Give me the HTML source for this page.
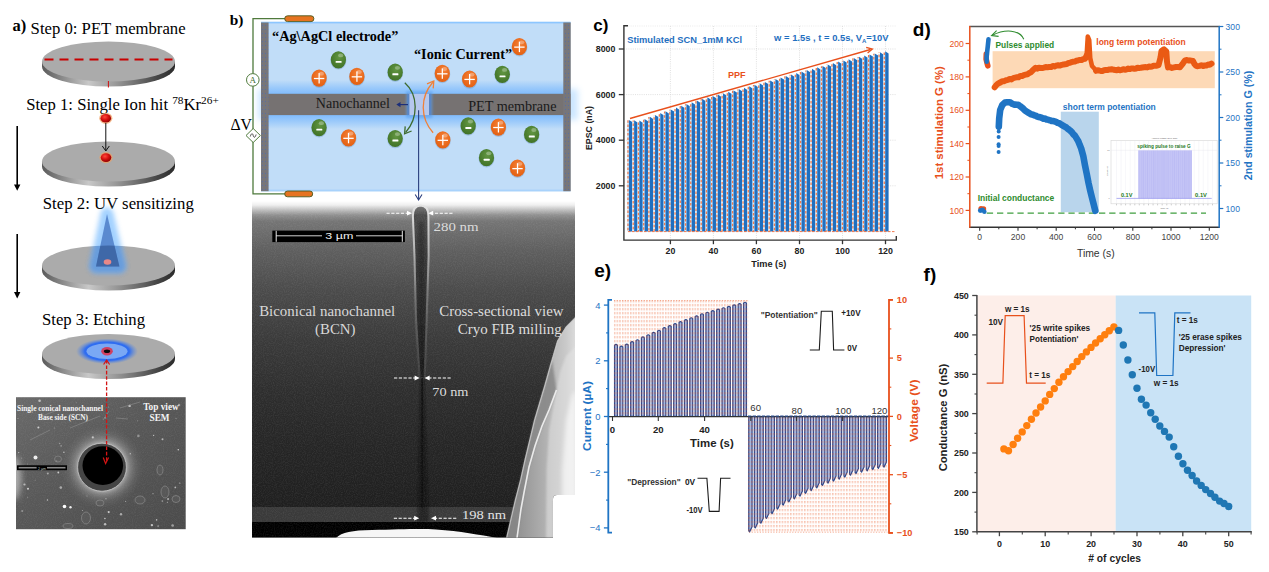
<!DOCTYPE html>
<html><head><meta charset="utf-8"><title>figure</title>
<style>
html,body{margin:0;padding:0;background:#fff;}
body{width:1269px;height:572px;overflow:hidden;font-family:"Liberation Sans",sans-serif;}
svg{display:block;}
</style></head>
<body>
<svg width="1269" height="572" viewBox="0 0 1269 572">
<defs>
<linearGradient id="discSide" x1="0" y1="0" x2="1" y2="0">
  <stop offset="0" stop-color="#5a5a5a"/>
  <stop offset="0.35" stop-color="#c8c8c8"/>
  <stop offset="0.55" stop-color="#9a9a9a"/>
  <stop offset="0.85" stop-color="#4a4a4a"/>
  <stop offset="1" stop-color="#2a2a2a"/>
</linearGradient>
<linearGradient id="discTop" x1="0" y1="0" x2="1" y2="1">
  <stop offset="0" stop-color="#b4b4b4"/>
  <stop offset="1" stop-color="#a4a4a4"/>
</linearGradient>
<radialGradient id="redBall" cx="0.4" cy="0.35" r="0.7">
  <stop offset="0" stop-color="#ff4a3a"/>
  <stop offset="0.5" stop-color="#d61010"/>
  <stop offset="1" stop-color="#8a0000"/>
</radialGradient>
<radialGradient id="ionG" cx="0.55" cy="0.35" r="0.7">
  <stop offset="0" stop-color="#629642"/>
  <stop offset="0.6" stop-color="#4c7f30"/>
  <stop offset="1" stop-color="#3f7026"/>
</radialGradient>
<radialGradient id="ionO" cx="0.55" cy="0.35" r="0.7">
  <stop offset="0" stop-color="#f4823a"/>
  <stop offset="0.6" stop-color="#ea6a1c"/>
  <stop offset="1" stop-color="#e05e12"/>
</radialGradient>
<radialGradient id="etchGlow" cx="0.5" cy="0.5" r="0.5">
  <stop offset="0" stop-color="#2f6df0" stop-opacity="1"/>
  <stop offset="0.72" stop-color="#2f6df0" stop-opacity="1"/>
  <stop offset="1" stop-color="#5a8ae0" stop-opacity="0"/>
</radialGradient>
<filter id="blur1" x="-30%" y="-30%" width="160%" height="160%"><feGaussianBlur stdDeviation="1"/></filter>
<filter id="blur2" x="-30%" y="-30%" width="160%" height="160%"><feGaussianBlur stdDeviation="2"/></filter>
<filter id="blur3" x="-40%" y="-40%" width="180%" height="180%"><feGaussianBlur stdDeviation="3"/></filter>
<filter id="blur07" x="-30%" y="-30%" width="160%" height="160%"><feGaussianBlur stdDeviation="0.7"/></filter>
<filter id="blur25" x="-50%" y="-30%" width="200%" height="160%"><feGaussianBlur stdDeviation="2.4"/></filter>
<filter id="blur05" x="-30%" y="-30%" width="160%" height="160%"><feGaussianBlur stdDeviation="0.5"/></filter>
<filter id="blur4" x="-40%" y="-40%" width="180%" height="180%"><feGaussianBlur stdDeviation="4.5"/></filter>
<filter id="noise" x="0" y="0" width="100%" height="100%">
  <feTurbulence type="fractalNoise" baseFrequency="0.9" numOctaves="2" seed="3" result="n"/>
  <feColorMatrix type="matrix" values="0 0 0 0 1  0 0 0 0 1  0 0 0 0 1  0.9 0 0 0 -0.33"/>
</filter>
<linearGradient id="semB" x1="0" y1="0" x2="0" y2="1">
  <stop offset="0" stop-color="#ffffff"/>
  <stop offset="0.012" stop-color="#efefef"/>
  <stop offset="0.027" stop-color="#bebebe"/>
  <stop offset="0.042" stop-color="#909090"/>
  <stop offset="0.060" stop-color="#757575"/>
  <stop offset="0.146" stop-color="#5f5f5f"/>
  <stop offset="0.264" stop-color="#4b4b4b"/>
  <stop offset="0.413" stop-color="#3a3a3a"/>
  <stop offset="0.562" stop-color="#2e2e2e"/>
  <stop offset="0.71" stop-color="#262626"/>
  <stop offset="0.9" stop-color="#1f1f1f"/>
  <stop offset="1" stop-color="#1c1c1c"/>
</linearGradient>
<linearGradient id="chanEdge" x1="0" y1="205" x2="0" y2="380" gradientUnits="userSpaceOnUse">
  <stop offset="0" stop-color="#e4e4e4"/>
  <stop offset="0.25" stop-color="#b4b4b4"/>
  <stop offset="0.5" stop-color="#787878"/>
  <stop offset="0.7" stop-color="#585858"/>
  <stop offset="1" stop-color="#3c3c3c"/>
</linearGradient>
<linearGradient id="chanFill" x1="0" y1="205" x2="0" y2="380" gradientUnits="userSpaceOnUse">
  <stop offset="0" stop-color="#7a7a7a"/>
  <stop offset="0.06" stop-color="#4c4c4c"/>
  <stop offset="0.3" stop-color="#3a3a3a"/>
  <stop offset="0.65" stop-color="#2a2a2a"/>
  <stop offset="1" stop-color="#1a1a1a"/>
</linearGradient>
<linearGradient id="semR1" x1="505" y1="0" x2="577" y2="0" gradientUnits="userSpaceOnUse">
  <stop offset="0" stop-color="#848484"/>
  <stop offset="0.3" stop-color="#9c9c9c"/>
  <stop offset="0.6" stop-color="#b4b4b4"/>
  <stop offset="0.85" stop-color="#cacaca"/>
  <stop offset="1" stop-color="#dedede"/>
</linearGradient>
<linearGradient id="semRight" x1="0" y1="0" x2="1" y2="0">
  <stop offset="0" stop-color="#8a8a8a"/>
  <stop offset="0.35" stop-color="#c4c4c4"/>
  <stop offset="0.6" stop-color="#e8e8e8"/>
  <stop offset="1" stop-color="#d0d0d0"/>
</linearGradient>
<radialGradient id="semHalo" cx="0.5" cy="0.5" r="0.5">
  <stop offset="0.55" stop-color="#d0d0d0" stop-opacity="0.8"/>
  <stop offset="0.68" stop-color="#b0b0b0" stop-opacity="0.45"/>
  <stop offset="0.84" stop-color="#909090" stop-opacity="0.18"/>
  <stop offset="1" stop-color="#808080" stop-opacity="0"/>
</radialGradient>
<linearGradient id="memGlowT" x1="0" y1="0" x2="0" y2="1">
  <stop offset="0" stop-color="#4aa0ff" stop-opacity="0"/>
  <stop offset="1" stop-color="#5aa8ff" stop-opacity="0.62"/>
</linearGradient>
<linearGradient id="memGlowB" x1="0" y1="0" x2="0" y2="1">
  <stop offset="0" stop-color="#5aa8ff" stop-opacity="0.62"/>
  <stop offset="1" stop-color="#4aa0ff" stop-opacity="0"/>
</linearGradient>
<pattern id="dots" x="0" y="0" width="3" height="4" patternUnits="userSpaceOnUse">
  <rect x="0" y="0" width="3" height="4" fill="#77767a"/>
  <rect x="1" y="1" width="1" height="1" fill="#5a6ea0"/>
</pattern>

</defs>
<rect x="0" y="0" width="1269" height="572" fill="#ffffff"/>
<g id="panelA">
<text x="12.6" y="30.8" font-family='"Liberation Serif", serif' font-size="16.5" fill="#000" font-weight="bold" >a)</text>
<text x="30.6" y="34.0" font-family='"Liberation Serif", serif' font-size="16.3" fill="#000" textLength="155.0" lengthAdjust="spacingAndGlyphs" >Step 0: PET membrane</text>
<path d="M42.0,61.5 L42.0,66.5 A66.5,20 0 0 0 175.0,66.5 L175.0,61.5 Z" fill="url(#discSide)"/>
<ellipse cx="108.5" cy="61.5" rx="66.5" ry="20" fill="#ababab"/>
<line x1="44.5" y1="59.4" x2="172.5" y2="59.4" stroke="#c80000" stroke-width="2" stroke-dasharray="9 6"/>
<line x1="108.4" y1="81" x2="108.4" y2="87.5" stroke="#d01010" stroke-width="1"/>
<text x="26.2" y="109.7" font-family='"Liberation Serif", serif' font-size="16.7" fill="#000" >Step 1: Single Ion hit <tspan font-size="11.3" dy="-5.6">78</tspan><tspan dy="5.6">Kr</tspan><tspan font-size="11.3" dy="-5.6">26+</tspan></text>
<path d="M42.0,161.5 L42.0,166.5 A66.5,20 0 0 0 175.0,166.5 L175.0,161.5 Z" fill="url(#discSide)"/>
<ellipse cx="108.5" cy="161.5" rx="66.5" ry="20" fill="#ababab"/>
<ellipse cx="105.8" cy="118.3" rx="6.6" ry="5.6" fill="#f0a060" opacity="0.7" filter="url(#blur05)"/>
<ellipse cx="105.8" cy="118.3" rx="5.3" ry="4.3" fill="url(#redBall)"/>
<line x1="105.8" y1="123" x2="105.8" y2="150.5" stroke="#111" stroke-width="1"/>
<path d="M102.3,146 L105.8,151 L109.3,146" fill="none" stroke="#111" stroke-width="1"/>
<ellipse cx="106" cy="157.6" rx="6.6" ry="5.6" fill="#f0a060" opacity="0.7" filter="url(#blur05)"/>
<ellipse cx="106" cy="157.6" rx="5.3" ry="4.3" fill="url(#redBall)"/>
<line x1="17.2" y1="126" x2="17.2" y2="186" stroke="#000" stroke-width="1.6"/>
<path d="M14,184.5 L17.2,190.8 L20.4,184.5 Z" fill="#000"/>
<line x1="17.2" y1="234" x2="17.2" y2="293" stroke="#000" stroke-width="1.6"/>
<path d="M14,292 L17.2,298.5 L20.4,292 Z" fill="#000"/>
<text x="42.8" y="208.8" font-family='"Liberation Serif", serif' font-size="16.3" fill="#000" textLength="151.0" lengthAdjust="spacingAndGlyphs" >Step 2: UV sensitizing</text>
<path d="M42.0,265.5 L42.0,270.5 A66.5,20 0 0 0 175.0,270.5 L175.0,265.5 Z" fill="url(#discSide)"/>
<ellipse cx="108.5" cy="265.5" rx="66.5" ry="20" fill="#ababab"/>
<path d="M107,214 L96,266.5 L119.4,266.5 Z" fill="#8cc6ff" stroke="#8cc6ff" stroke-width="13" stroke-linejoin="round" opacity="0.8" filter="url(#blur25)"/>
<clipPath id="clipD2g"><ellipse cx="108.5" cy="265.5" rx="66.5" ry="20"/></clipPath>
<g clip-path="url(#clipD2g)"><path d="M107,214 L96,266.5 L119.4,266.5 Z" fill="#4c84d0" stroke="#4c84d0" stroke-width="13" stroke-linejoin="round" opacity="0.6" filter="url(#blur25)"/></g>
<path d="M107,214 L96,266.5 L119.4,266.5 Z" fill="#5a8ad0"/>
<clipPath id="clipD2"><ellipse cx="108.5" cy="265.5" rx="66.5" ry="20"/></clipPath>
<path d="M107,214 L96,266.5 L119.4,266.5 Z" fill="#3f68a8" clip-path="url(#clipD2)"/>
<ellipse cx="107.5" cy="262" rx="3.8" ry="2.8" fill="#e88888"/>
<text x="42.0" y="325.0" font-family='"Liberation Serif", serif' font-size="16.3" fill="#000" textLength="103.0" lengthAdjust="spacingAndGlyphs" >Step 3: Etching</text>
<path d="M42.0,354.0 L42.0,359.0 A66.5,20 0 0 0 175.0,359.0 L175.0,354.0 Z" fill="url(#discSide)"/>
<ellipse cx="108.5" cy="354" rx="66.5" ry="20" fill="#ababab"/>
<ellipse cx="107" cy="351.3" rx="31" ry="12.8" fill="url(#etchGlow)"/>
<ellipse cx="107" cy="351.3" rx="20.5" ry="7.8" fill="#7aa8f4"/>
<ellipse cx="107" cy="351.3" rx="5.8" ry="4.2" fill="#d04060"/>
<ellipse cx="107" cy="351.3" rx="3.2" ry="1.8" fill="#0a0a0a"/>
<g>
<clipPath id="clipSemA"><rect x="16" y="397.2" width="169.7" height="132"/></clipPath>
<linearGradient id="semAbg" x1="0" y1="0" x2="1" y2="1"><stop offset="0" stop-color="#6a6a6a"/><stop offset="0.45" stop-color="#585858"/><stop offset="1" stop-color="#4a4a4a"/></linearGradient>
<rect x="16" y="397.2" width="169.7" height="132" fill="url(#semAbg)"/>
<g clip-path="url(#clipSemA)">
<rect x="16" y="397.2" width="169.7" height="132" filter="url(#noise)" opacity="0.15"/>
<ellipse cx="14" cy="478" rx="7" ry="22" fill="#d0d0d0" opacity="0.7" filter="url(#blur3)"/>
<circle cx="102.3" cy="467" r="41" fill="url(#semHalo)"/>
<ellipse cx="102" cy="467.2" rx="24.4" ry="24" fill="#454545"/>
<ellipse cx="102" cy="467.2" rx="24.4" ry="24" fill="none" stroke="#d0d0d0" stroke-width="1" opacity="0.7"/>
<ellipse cx="102.8" cy="465.6" rx="20.3" ry="19.4" fill="#000"/>
<circle cx="71.4" cy="418.3" r="1.0" fill="#e8e8e8" opacity="0.39"/>
<circle cx="27.6" cy="464.0" r="0.4" fill="#e8e8e8" opacity="0.57"/>
<circle cx="29.5" cy="410.6" r="0.8" fill="#e8e8e8" opacity="0.76"/>
<circle cx="38.4" cy="427.6" r="1.0" fill="#e8e8e8" opacity="0.82"/>
<circle cx="179.1" cy="405.0" r="1.2" fill="#e8e8e8" opacity="0.49"/>
<circle cx="41.8" cy="414.1" r="0.7" fill="#e8e8e8" opacity="0.76"/>
<circle cx="47.8" cy="473.4" r="1.0" fill="#e8e8e8" opacity="0.54"/>
<circle cx="108.4" cy="407.0" r="0.5" fill="#e8e8e8" opacity="0.45"/>
<circle cx="130.3" cy="453.7" r="0.7" fill="#e8e8e8" opacity="0.64"/>
<circle cx="92.8" cy="437.4" r="1.1" fill="#e8e8e8" opacity="0.70"/>
<circle cx="58.3" cy="472.5" r="0.9" fill="#e8e8e8" opacity="0.79"/>
<circle cx="138.4" cy="435.9" r="1.3" fill="#e8e8e8" opacity="0.41"/>
<circle cx="87.0" cy="495.9" r="0.5" fill="#e8e8e8" opacity="0.59"/>
<circle cx="24.5" cy="484.5" r="1.1" fill="#e8e8e8" opacity="0.64"/>
<circle cx="162.5" cy="439.2" r="1.0" fill="#e8e8e8" opacity="0.65"/>
<circle cx="156.6" cy="519.9" r="0.8" fill="#e8e8e8" opacity="0.68"/>
<circle cx="28.0" cy="488.8" r="1.0" fill="#e8e8e8" opacity="0.85"/>
<circle cx="153.6" cy="435.4" r="0.7" fill="#e8e8e8" opacity="0.68"/>
<circle cx="21.7" cy="458.1" r="0.6" fill="#e8e8e8" opacity="0.41"/>
<circle cx="27.7" cy="497.3" r="0.5" fill="#e8e8e8" opacity="0.47"/>
<circle cx="82.5" cy="510.5" r="0.5" fill="#e8e8e8" opacity="0.57"/>
<circle cx="108.7" cy="512.1" r="1.1" fill="#e8e8e8" opacity="0.78"/>
<circle cx="63.9" cy="452.2" r="0.7" fill="#e8e8e8" opacity="0.79"/>
<circle cx="176.0" cy="418.3" r="0.6" fill="#e8e8e8" opacity="0.47"/>
<circle cx="56.5" cy="461.1" r="0.9" fill="#e8e8e8" opacity="0.48"/>
<circle cx="18.7" cy="452.6" r="0.7" fill="#e8e8e8" opacity="0.63"/>
<circle cx="175.3" cy="487.4" r="0.9" fill="#e8e8e8" opacity="0.66"/>
<circle cx="129.6" cy="405.9" r="1.2" fill="#e8e8e8" opacity="0.74"/>
<circle cx="162.3" cy="501.1" r="0.8" fill="#e8e8e8" opacity="0.55"/>
<circle cx="35.1" cy="480.2" r="0.5" fill="#e8e8e8" opacity="0.38"/>
<circle cx="52.4" cy="419.8" r="0.7" fill="#e8e8e8" opacity="0.38"/>
<circle cx="18.0" cy="418.4" r="0.5" fill="#e8e8e8" opacity="0.53"/>
<circle cx="22.2" cy="510.9" r="1.0" fill="#e8e8e8" opacity="0.42"/>
<circle cx="59.6" cy="443.5" r="0.7" fill="#e8e8e8" opacity="0.41"/>
<circle cx="158.1" cy="526.1" r="0.8" fill="#e8e8e8" opacity="0.59"/>
<circle cx="32.2" cy="412.1" r="0.7" fill="#e8e8e8" opacity="0.48"/>
<circle cx="154.8" cy="419.7" r="0.4" fill="#e8e8e8" opacity="0.83"/>
<circle cx="105.2" cy="417.8" r="0.9" fill="#e8e8e8" opacity="0.36"/>
<circle cx="105.1" cy="524.2" r="1.2" fill="#e8e8e8" opacity="0.70"/>
<circle cx="61.1" cy="445.9" r="0.6" fill="#e8e8e8" opacity="0.74"/>
<circle cx="105.9" cy="498.7" r="0.7" fill="#e8e8e8" opacity="0.46"/>
<circle cx="151.9" cy="525.1" r="1.2" fill="#e8e8e8" opacity="0.75"/>
<circle cx="153.0" cy="493.7" r="0.6" fill="#e8e8e8" opacity="0.61"/>
<circle cx="76.7" cy="402.7" r="0.4" fill="#e8e8e8" opacity="0.49"/>
<circle cx="60.8" cy="487.6" r="1.3" fill="#e8e8e8" opacity="0.57"/>
<circle cx="172.6" cy="525.5" r="1.3" fill="#e8e8e8" opacity="0.53"/>
<circle cx="54.4" cy="428.0" r="0.6" fill="#e8e8e8" opacity="0.45"/>
<circle cx="121.0" cy="514.2" r="1.2" fill="#e8e8e8" opacity="0.59"/>
<circle cx="125.7" cy="501.4" r="0.5" fill="#e8e8e8" opacity="0.68"/>
<circle cx="168.1" cy="499.1" r="1.1" fill="#e8e8e8" opacity="0.59"/>
<circle cx="47.5" cy="500.0" r="0.7" fill="#e8e8e8" opacity="0.75"/>
<circle cx="178.3" cy="449.7" r="0.8" fill="#e8e8e8" opacity="0.82"/>
<circle cx="137.6" cy="420.8" r="0.5" fill="#e8e8e8" opacity="0.43"/>
<circle cx="167.3" cy="502.2" r="0.5" fill="#e8e8e8" opacity="0.76"/>
<circle cx="179.8" cy="483.1" r="0.7" fill="#e8e8e8" opacity="0.62"/>
<circle cx="39.6" cy="400.8" r="1.3" fill="#e8e8e8" opacity="0.67"/>
<circle cx="104.9" cy="518.5" r="0.8" fill="#e8e8e8" opacity="0.79"/>
<ellipse cx="86" cy="518" rx="4.5" ry="6" fill="#606060" fill-opacity="0.5" stroke="#8a8a8a" stroke-width="0.7"/>
<ellipse cx="176" cy="499" rx="4" ry="3.5" fill="#606060" fill-opacity="0.5" stroke="#8a8a8a" stroke-width="0.7"/>
<ellipse cx="165" cy="492" rx="4" ry="6" fill="#606060" fill-opacity="0.5" stroke="#8a8a8a" stroke-width="0.7"/>
<ellipse cx="58" cy="459" rx="3.5" ry="3" fill="#606060" fill-opacity="0.5" stroke="#8a8a8a" stroke-width="0.7"/>
<ellipse cx="140" cy="500" rx="5" ry="4" fill="#606060" fill-opacity="0.5" stroke="#8a8a8a" stroke-width="0.7"/>
<ellipse cx="100" cy="503" rx="4" ry="3" fill="#606060" fill-opacity="0.5" stroke="#8a8a8a" stroke-width="0.7"/>
<ellipse cx="160" cy="470" rx="3" ry="5" fill="#606060" fill-opacity="0.5" stroke="#8a8a8a" stroke-width="0.7"/>
<ellipse cx="68" cy="526" rx="5" ry="2.5" fill="#606060" fill-opacity="0.5" stroke="#8a8a8a" stroke-width="0.7"/>
<circle cx="64.5" cy="506.5" r="1.8" fill="#fff"/><circle cx="70.5" cy="507.3" r="1.2" fill="#eee"/>
<circle cx="35.5" cy="457.5" r="2" fill="#eee"/>
<line x1="40" y1="417" x2="60" y2="409" stroke="#9a9a9a" stroke-width="0.7" opacity="0.7"/>
<line x1="70" y1="428" x2="100" y2="416" stroke="#9a9a9a" stroke-width="0.7" opacity="0.7"/>
<line x1="103" y1="420" x2="109" y2="411" stroke="#9a9a9a" stroke-width="0.7" opacity="0.7"/>
<line x1="116" y1="418" x2="128" y2="419" stroke="#9a9a9a" stroke-width="0.7" opacity="0.7"/>
<line x1="30" y1="440" x2="50" y2="430" stroke="#9a9a9a" stroke-width="0.7" opacity="0.7"/>
<line x1="120" y1="408" x2="140" y2="402" stroke="#9a9a9a" stroke-width="0.7" opacity="0.7"/>
</g>
<rect x="17" y="465.3" width="50" height="4.9" fill="#000"/>
<rect x="18.6" y="466.9" width="18" height="1.6" fill="#8a8a8a"/>
<rect x="47" y="466.9" width="18.5" height="1.6" fill="#8a8a8a"/>
<text x="42.0" y="469.6" font-family='"Liberation Sans", sans-serif' font-size="3.6" fill="#bbb" text-anchor="middle" >2 µm</text>
<text x="17.0" y="410.7" font-family='"Liberation Serif", serif' font-size="7.7" fill="#f4f4f4" font-weight="bold" textLength="86.0" lengthAdjust="spacingAndGlyphs" >Single conical nanochannel</text>
<text x="63.0" y="419.8" font-family='"Liberation Serif", serif' font-size="7.7" fill="#f4f4f4" text-anchor="middle" font-weight="bold" textLength="50.0" lengthAdjust="spacingAndGlyphs" >Base side (SCN)</text>
<text x="161.0" y="410.0" font-family='"Liberation Serif", serif' font-size="9.6" fill="#f4f4f4" text-anchor="middle" font-weight="bold" textLength="35.5" lengthAdjust="spacingAndGlyphs" >Top view</text>
<text x="159.5" y="421.0" font-family='"Liberation Serif", serif' font-size="9.6" fill="#f4f4f4" text-anchor="middle" font-weight="bold" textLength="20.0" lengthAdjust="spacingAndGlyphs" >SEM</text>
</g>
<line x1="106.6" y1="360" x2="106.6" y2="462" stroke="#d41414" stroke-width="1.3" stroke-dasharray="3.6 1.8"/>
<path d="M103.6,364.5 L106.6,360 L109.6,364.5" fill="none" stroke="#d41414" stroke-width="1.2"/>
<path d="M103.2,457.5 L105.6,463.5 L108.6,457.5" fill="none" stroke="#d41414" stroke-width="1.2"/>
</g>
<g id="panelB">
<text x="229.8" y="25.0" font-family='"Liberation Serif", serif' font-size="15.4" fill="#000" font-weight="bold" >b)</text>
<rect x="258" y="89" width="320" height="31" fill="#7cc0ff" opacity="0.38" filter="url(#blur3)"/>
<rect x="261" y="21.8" width="309.5" height="169.4" fill="#c1ddf8"/>
<rect x="261" y="21.8" width="309.5" height="1.6" fill="#8cc6ff"/>
<rect x="261" y="189.6" width="309.5" height="1.8" fill="#a8d2fb"/>
<rect x="261" y="80" width="309.5" height="14" fill="url(#memGlowT)"/>
<rect x="261" y="115" width="309.5" height="14" fill="url(#memGlowB)"/>
<rect x="261" y="93.8" width="309.5" height="21.3" fill="#767272"/>
<rect x="406" y="91" width="26.5" height="27" fill="#5aa0f0" opacity="0.55" filter="url(#blur1)"/>
<rect x="408" y="93.8" width="22.3" height="21.3" fill="#b6c8ee"/>
<rect x="407.2" y="93.8" width="2.2" height="21.3" fill="#5a86c4"/>
<rect x="429" y="93.8" width="2.2" height="21.3" fill="#5a86c4"/>
<rect x="261" y="22.5" width="7.6" height="168.7" fill="url(#dots)"/>
<rect x="563.3" y="22.5" width="7.4" height="168.7" fill="url(#dots)"/>
<path d="M286,18.7 L253,18.7 L253,193.9 L286,193.9" fill="none" stroke="#4f7a3c" stroke-width="1.3"/>
<rect x="284.7" y="15.8" width="29.2" height="5.8" rx="2.9" fill="#e67320" stroke="#4a5a20" stroke-width="0.9"/>
<rect x="284.7" y="191" width="28" height="5.8" rx="2.9" fill="#e67320" stroke="#4a5a20" stroke-width="0.9"/>
<circle cx="252.8" cy="79.9" r="6.3" fill="#fff" stroke="#4f7a3c" stroke-width="1"/>
<text x="252.8" y="83.2" font-family='"Liberation Serif", serif' font-size="9" fill="#3d6a2e" text-anchor="middle" >A</text>
<path d="M253.2,128.5 L260.4,135.5 L253.2,142.5 L246,135.5 Z" fill="#fff" stroke="#4f7a3c" stroke-width="1"/>
<path d="M250.3,136.5 C251.3,133 252.6,133 253.2,135.5 C253.8,138 255.1,138 256.1,134.5" fill="none" stroke="#222" stroke-width="0.8"/>
<text x="230.5" y="129.7" font-family='"Liberation Serif", serif' font-size="16.5" fill="#000" textLength="21.5" lengthAdjust="spacingAndGlyphs" >ΔV</text>
<text x="272.0" y="41.0" font-family='"Liberation Serif", serif' font-size="13.6" fill="#000" font-weight="bold" textLength="126.3" lengthAdjust="spacingAndGlyphs" >“Ag\AgCl electrode”</text>
<text x="414.0" y="58.6" font-family='"Liberation Serif", serif' font-size="13.6" fill="#000" font-weight="bold" textLength="98.0" lengthAdjust="spacingAndGlyphs" >“Ionic Current”</text>
<text x="315.8" y="107.9" font-family='"Liberation Serif", serif' font-size="14" fill="#1a1a1a" textLength="74.2" lengthAdjust="spacingAndGlyphs" >Nanochannel</text>
<text x="468.2" y="110.5" font-family='"Liberation Serif", serif' font-size="14" fill="#1a1a1a" textLength="88.3" lengthAdjust="spacingAndGlyphs" >PET membrane</text>
<ellipse cx="338.4" cy="60.6" rx="8" ry="9" fill="#5080b0" opacity="0.3" filter="url(#blur05)"/>
<ellipse cx="338.4" cy="59.8" rx="7.6" ry="8.6" fill="url(#ionG)"/>
<ellipse cx="340.7" cy="55.4" rx="2.6" ry="1.9" fill="#fff" opacity="0.3" filter="url(#blur05)"/>
<rect x="335.6" y="60.9" width="6" height="1.9" rx="0.5" fill="#fff"/>
<ellipse cx="319.1" cy="78.9" rx="8" ry="9" fill="#5080b0" opacity="0.3" filter="url(#blur05)"/>
<ellipse cx="319.1" cy="78.1" rx="7.6" ry="8.6" fill="url(#ionO)"/>
<ellipse cx="321.4" cy="73.7" rx="2.6" ry="1.9" fill="#fff" opacity="0.3" filter="url(#blur05)"/>
<rect x="313.9" y="77.9" width="10.4" height="1.25" fill="#fff"/>
<rect x="318.5" y="73.1" width="1.25" height="10.4" fill="#fff"/>
<ellipse cx="356.9" cy="77.2" rx="8" ry="9" fill="#5080b0" opacity="0.3" filter="url(#blur05)"/>
<ellipse cx="356.9" cy="76.4" rx="7.6" ry="8.6" fill="url(#ionO)"/>
<ellipse cx="359.2" cy="72.0" rx="2.6" ry="1.9" fill="#fff" opacity="0.3" filter="url(#blur05)"/>
<rect x="351.7" y="76.2" width="10.4" height="1.25" fill="#fff"/>
<rect x="356.3" y="71.4" width="1.25" height="10.4" fill="#fff"/>
<ellipse cx="395.2" cy="73.0" rx="8" ry="9" fill="#5080b0" opacity="0.3" filter="url(#blur05)"/>
<ellipse cx="395.2" cy="72.2" rx="7.6" ry="8.6" fill="url(#ionG)"/>
<ellipse cx="397.5" cy="67.8" rx="2.6" ry="1.9" fill="#fff" opacity="0.3" filter="url(#blur05)"/>
<rect x="392.4" y="73.3" width="6" height="1.9" rx="0.5" fill="#fff"/>
<ellipse cx="519.4" cy="47.5" rx="8" ry="9" fill="#5080b0" opacity="0.3" filter="url(#blur05)"/>
<ellipse cx="519.4" cy="46.7" rx="7.6" ry="8.6" fill="url(#ionO)"/>
<ellipse cx="521.7" cy="42.3" rx="2.6" ry="1.9" fill="#fff" opacity="0.3" filter="url(#blur05)"/>
<rect x="514.2" y="46.5" width="10.4" height="1.25" fill="#fff"/>
<rect x="518.8" y="41.7" width="1.25" height="10.4" fill="#fff"/>
<ellipse cx="442.3" cy="74.2" rx="8" ry="9" fill="#5080b0" opacity="0.3" filter="url(#blur05)"/>
<ellipse cx="442.3" cy="73.4" rx="7.6" ry="8.6" fill="url(#ionO)"/>
<ellipse cx="444.6" cy="69.0" rx="2.6" ry="1.9" fill="#fff" opacity="0.3" filter="url(#blur05)"/>
<rect x="437.1" y="73.2" width="10.4" height="1.25" fill="#fff"/>
<rect x="441.7" y="68.4" width="1.25" height="10.4" fill="#fff"/>
<ellipse cx="469.6" cy="79.8" rx="8" ry="9" fill="#5080b0" opacity="0.3" filter="url(#blur05)"/>
<ellipse cx="469.6" cy="79.0" rx="7.6" ry="8.6" fill="url(#ionO)"/>
<ellipse cx="471.9" cy="74.6" rx="2.6" ry="1.9" fill="#fff" opacity="0.3" filter="url(#blur05)"/>
<rect x="464.4" y="78.8" width="10.4" height="1.25" fill="#fff"/>
<rect x="469.0" y="74.0" width="1.25" height="10.4" fill="#fff"/>
<ellipse cx="502.3" cy="75.1" rx="8" ry="9" fill="#5080b0" opacity="0.3" filter="url(#blur05)"/>
<ellipse cx="502.3" cy="74.3" rx="7.6" ry="8.6" fill="url(#ionG)"/>
<ellipse cx="504.6" cy="69.9" rx="2.6" ry="1.9" fill="#fff" opacity="0.3" filter="url(#blur05)"/>
<rect x="499.5" y="75.4" width="6" height="1.9" rx="0.5" fill="#fff"/>
<ellipse cx="319.1" cy="128.4" rx="8" ry="9" fill="#5080b0" opacity="0.3" filter="url(#blur05)"/>
<ellipse cx="319.1" cy="127.6" rx="7.6" ry="8.6" fill="url(#ionG)"/>
<ellipse cx="321.4" cy="123.2" rx="2.6" ry="1.9" fill="#fff" opacity="0.3" filter="url(#blur05)"/>
<rect x="316.3" y="128.7" width="6" height="1.9" rx="0.5" fill="#fff"/>
<ellipse cx="348.5" cy="138.7" rx="8" ry="9" fill="#5080b0" opacity="0.3" filter="url(#blur05)"/>
<ellipse cx="348.5" cy="137.9" rx="7.6" ry="8.6" fill="url(#ionO)"/>
<ellipse cx="350.8" cy="133.5" rx="2.6" ry="1.9" fill="#fff" opacity="0.3" filter="url(#blur05)"/>
<rect x="343.3" y="137.7" width="10.4" height="1.25" fill="#fff"/>
<rect x="347.9" y="132.9" width="1.25" height="10.4" fill="#fff"/>
<ellipse cx="395.2" cy="139.3" rx="8" ry="9" fill="#5080b0" opacity="0.3" filter="url(#blur05)"/>
<ellipse cx="395.2" cy="138.5" rx="7.6" ry="8.6" fill="url(#ionG)"/>
<ellipse cx="397.5" cy="134.1" rx="2.6" ry="1.9" fill="#fff" opacity="0.3" filter="url(#blur05)"/>
<rect x="392.4" y="139.6" width="6" height="1.9" rx="0.5" fill="#fff"/>
<ellipse cx="442.8" cy="140.7" rx="8" ry="9" fill="#5080b0" opacity="0.3" filter="url(#blur05)"/>
<ellipse cx="442.8" cy="139.9" rx="7.6" ry="8.6" fill="url(#ionO)"/>
<ellipse cx="445.1" cy="135.5" rx="2.6" ry="1.9" fill="#fff" opacity="0.3" filter="url(#blur05)"/>
<rect x="437.6" y="139.7" width="10.4" height="1.25" fill="#fff"/>
<rect x="442.2" y="134.9" width="1.25" height="10.4" fill="#fff"/>
<ellipse cx="468.2" cy="126.7" rx="8" ry="9" fill="#5080b0" opacity="0.3" filter="url(#blur05)"/>
<ellipse cx="468.2" cy="125.9" rx="7.6" ry="8.6" fill="url(#ionG)"/>
<ellipse cx="470.5" cy="121.5" rx="2.6" ry="1.9" fill="#fff" opacity="0.3" filter="url(#blur05)"/>
<rect x="465.4" y="127.0" width="6" height="1.9" rx="0.5" fill="#fff"/>
<ellipse cx="498.4" cy="127.9" rx="8" ry="9" fill="#5080b0" opacity="0.3" filter="url(#blur05)"/>
<ellipse cx="498.4" cy="127.1" rx="7.6" ry="8.6" fill="url(#ionO)"/>
<ellipse cx="500.7" cy="122.7" rx="2.6" ry="1.9" fill="#fff" opacity="0.3" filter="url(#blur05)"/>
<rect x="493.2" y="126.9" width="10.4" height="1.25" fill="#fff"/>
<rect x="497.8" y="122.1" width="1.25" height="10.4" fill="#fff"/>
<ellipse cx="531.6" cy="135.2" rx="8" ry="9" fill="#5080b0" opacity="0.3" filter="url(#blur05)"/>
<ellipse cx="531.6" cy="134.4" rx="7.6" ry="8.6" fill="url(#ionG)"/>
<ellipse cx="533.9" cy="130.0" rx="2.6" ry="1.9" fill="#fff" opacity="0.3" filter="url(#blur05)"/>
<rect x="528.8" y="135.5" width="6" height="1.9" rx="0.5" fill="#fff"/>
<ellipse cx="486.5" cy="158.5" rx="8" ry="9" fill="#5080b0" opacity="0.3" filter="url(#blur05)"/>
<ellipse cx="486.5" cy="157.7" rx="7.6" ry="8.6" fill="url(#ionG)"/>
<ellipse cx="488.8" cy="153.3" rx="2.6" ry="1.9" fill="#fff" opacity="0.3" filter="url(#blur05)"/>
<rect x="483.7" y="158.8" width="6" height="1.9" rx="0.5" fill="#fff"/>
<ellipse cx="517.5" cy="169.0" rx="8" ry="9" fill="#5080b0" opacity="0.3" filter="url(#blur05)"/>
<ellipse cx="517.5" cy="168.2" rx="7.6" ry="8.6" fill="url(#ionO)"/>
<ellipse cx="519.8" cy="163.8" rx="2.6" ry="1.9" fill="#fff" opacity="0.3" filter="url(#blur05)"/>
<rect x="512.3" y="168.0" width="10.4" height="1.25" fill="#fff"/>
<rect x="516.9" y="163.2" width="1.25" height="10.4" fill="#fff"/>
<path d="M404.8,82.8 C418.5,95 418.5,118 405.6,132.5" fill="none" stroke="#3d6a2e" stroke-width="1.3"/>
<path d="M405.2,126.4 L404.6,133.8 L411.6,131" fill="none" stroke="#3d6a2e" stroke-width="1.3"/>
<path d="M433.1,132.7 C420,118 420,97 432.8,82.2" fill="none" stroke="#f08038" stroke-width="1.3"/>
<path d="M427,83.8 L433.8,81 L433.2,88.4" fill="none" stroke="#f08038" stroke-width="1.3"/>
<line x1="408" y1="104.6" x2="398.5" y2="104.6" stroke="#1c2f7a" stroke-width="1.2"/>
<path d="M400.5,102 L396.3,104.6 L400.5,107.2 Z" fill="#1c2f7a"/>
<line x1="418.6" y1="110.3" x2="418.6" y2="199" stroke="#2c3f7e" stroke-width="1.1"/>
<path d="M415.2,194.5 L418.6,200 L422,194.5" fill="none" stroke="#2c3f7e" stroke-width="1.1"/>
<clipPath id="clipSemB"><path d="M252,200 L575,200 L575,495 L557,495 Q553,495 553,499 L553,537.5 L252,537.5 Z"/></clipPath>
<g clip-path="url(#clipSemB)">
<rect x="252" y="201" width="323" height="336.5" fill="url(#semB)"/>
<rect x="252" y="507" width="323" height="15.5" fill="#3a3a3a"/>
<rect x="252" y="522" width="323" height="16" fill="#000"/>
<path d="M412.9,216 Q412.9,206 420.6,205.6 Q428.4,206 428.4,216 L428.6,256 L426.6,320 L424.6,378 L419.8,378 L416,320 L414.5,256 Z" fill="#d8d8d8" opacity="0.30" filter="url(#blur1)"/>
<path d="M412.9,216 Q412.9,206 420.6,205.6 Q428.4,206 428.4,216 L428.6,256 L426.6,320 L424.6,378 L419.8,378 L416,320 L414.5,256 Z" fill="url(#chanFill)" stroke="url(#chanEdge)" stroke-width="2" filter="url(#blur07)"/>
<path d="M418.6,222 L423.4,222 L424.2,256 L423.4,320 L423,378 L421.4,378 L420,320 L418.4,256 Z" fill="#141414" opacity="0.35" filter="url(#blur1)"/>
<path d="M420.2,378 L424.2,378 L428.8,522 L417.5,522 Z" fill="#0c0c0c" opacity="0.5" filter="url(#blur1)"/>
<rect x="421.4" y="378" width="1.6" height="130" fill="#0a0a0a" opacity="0.6"/>
<rect x="252" y="201" width="323" height="336.5" filter="url(#noise)" opacity="0.17"/>
<path d="M506.6,538 L515.4,500 L520.6,480 L525,460 L534.6,420 L545,385 L552,360 L557.5,341 L566,327 L576,317 L576,538 Z" fill="url(#semR1)" filter="url(#blur05)"/>
<path d="M506.6,538 L515.4,500 L520.6,480 L525,460 L534.6,420 L545,385 L552,360 L556.5,390 L549,410 L542,426 L535,446 L529,467 L524.5,490 L521,509 L517,538 Z" fill="#868686" opacity="0.85" filter="url(#blur1)"/>
<path d="M556.5,390 L549,410 L542,426 L535,446 L529,467 L524.5,490 L521,509 L517,538" fill="none" stroke="#f4f4f4" stroke-width="1.6" opacity="0.9" filter="url(#blur05)"/>
<path d="M506.6,538 L515.4,500 L520.6,480 L525,460 L534.6,420 L545,385 L552,360 L557.5,341 L566,327 L576,317" fill="none" stroke="#cfcfcf" stroke-width="1.2" opacity="0.8" filter="url(#blur05)"/>
<path d="M556.5,390 L560,372 L566,356 L576,346 L576,500 L553,500 L553,538 L546,538 L546.5,470 L549,430 Z" fill="#e6e6e6" opacity="0.5" filter="url(#blur1)"/>
<path d="M562,538 L562,470 L566,420 L572,395 L576,390 L576,538 Z" fill="#ffffff" opacity="0.6" filter="url(#blur2)"/>
<path d="M336,538 C342,532 352,530.5 372,530 C400,529.5 420,528.5 436,529.5 C460,531 480,535 497,538 Z" fill="#f6f6f6"/>
</g>
<rect x="272.3" y="230.6" width="132.6" height="11.5" fill="#000"/>
<line x1="276" y1="235.8" x2="322" y2="235.8" stroke="#e8e8e8" stroke-width="0.9"/>
<line x1="356" y1="235.8" x2="402.5" y2="235.8" stroke="#e8e8e8" stroke-width="0.9"/>
<line x1="276.2" y1="230.8" x2="276.2" y2="241.8" stroke="#e8e8e8" stroke-width="1"/>
<line x1="402.3" y1="230.8" x2="402.3" y2="241.8" stroke="#e8e8e8" stroke-width="1"/>
<text x="339.3" y="239.3" font-family='"Liberation Sans", sans-serif' font-size="9.6" fill="#f0f0f0" text-anchor="middle" textLength="28.0" lengthAdjust="spacingAndGlyphs" >3 µm</text>
<line x1="386.5" y1="213.2" x2="408.0" y2="213.2" stroke="#fff" stroke-width="1.1" stroke-dasharray="3.2 1.6"/>
<path d="M407.0,210.79999999999998 L412.0,213.2 L407.0,215.6 Z" fill="#fff"/>
<line x1="452.5" y1="213.2" x2="432.2" y2="213.2" stroke="#fff" stroke-width="1.1" stroke-dasharray="3.2 1.6"/>
<path d="M433.2,210.79999999999998 L428.2,213.2 L433.2,215.6 Z" fill="#fff"/>
<line x1="394.0" y1="378" x2="415.6" y2="378" stroke="#fff" stroke-width="1.1" stroke-dasharray="3.2 1.6"/>
<path d="M414.6,375.6 L419.6,378 L414.6,380.4 Z" fill="#fff"/>
<line x1="450.7" y1="378" x2="428.6" y2="378" stroke="#fff" stroke-width="1.1" stroke-dasharray="3.2 1.6"/>
<path d="M429.6,375.6 L424.6,378 L429.6,380.4 Z" fill="#fff"/>
<line x1="393.8" y1="518.2" x2="415.2" y2="518.2" stroke="#fff" stroke-width="1.1" stroke-dasharray="3.2 1.6"/>
<path d="M414.2,515.8000000000001 L419.2,518.2 L414.2,520.6 Z" fill="#fff"/>
<line x1="456.3" y1="518.2" x2="435.0" y2="518.2" stroke="#fff" stroke-width="1.1" stroke-dasharray="3.2 1.6"/>
<path d="M436.0,515.8000000000001 L431.0,518.2 L436.0,520.6 Z" fill="#fff"/>
<text x="433.6" y="231.0" font-family='"Liberation Serif", serif' font-size="13" fill="#dcdcdc" textLength="45.0" lengthAdjust="spacingAndGlyphs" >280 nm</text>
<text x="432.3" y="395.7" font-family='"Liberation Serif", serif' font-size="13" fill="#dcdcdc" textLength="36.2" lengthAdjust="spacingAndGlyphs" >70 nm</text>
<text x="462.0" y="518.8" font-family='"Liberation Serif", serif' font-size="13" fill="#e4e4e4" textLength="44.0" lengthAdjust="spacingAndGlyphs" >198 nm</text>
<text x="259.2" y="315.9" font-family='"Liberation Serif", serif' font-size="14.3" fill="#d8d8d8" textLength="136.0" lengthAdjust="spacingAndGlyphs" >Biconical nanochannel</text>
<text x="335.3" y="333.7" font-family='"Liberation Serif", serif' font-size="14.3" fill="#d8d8d8" text-anchor="middle" textLength="40.5" lengthAdjust="spacingAndGlyphs" >(BCN)</text>
<text x="439.3" y="315.9" font-family='"Liberation Serif", serif' font-size="14.3" fill="#dedede" textLength="124.2" lengthAdjust="spacingAndGlyphs" >Cross-sectional view</text>
<text x="457.7" y="333.7" font-family='"Liberation Serif", serif' font-size="14.3" fill="#dedede" textLength="104.0" lengthAdjust="spacingAndGlyphs" >Cryo FIB milling</text>
</g>
<g id="panelC">
<text x="593.2" y="31.2" font-family='"Liberation Sans", sans-serif' font-size="17" fill="#000" font-weight="bold" >c)</text>
<line x1="624" y1="185.8" x2="896" y2="185.8" stroke="#d2d2d2" stroke-width="0.7" stroke-dasharray="1 1.2"/>
<line x1="624" y1="140.2" x2="896" y2="140.2" stroke="#d2d2d2" stroke-width="0.7" stroke-dasharray="1 1.2"/>
<line x1="624" y1="94.6" x2="896" y2="94.6" stroke="#d2d2d2" stroke-width="0.7" stroke-dasharray="1 1.2"/>
<line x1="624" y1="49.0" x2="896" y2="49.0" stroke="#d2d2d2" stroke-width="0.7" stroke-dasharray="1 1.2"/>
<line x1="670.4" y1="26" x2="670.4" y2="240" stroke="#d2d2d2" stroke-width="0.7" stroke-dasharray="1 1.2"/>
<line x1="713.4" y1="26" x2="713.4" y2="240" stroke="#d2d2d2" stroke-width="0.7" stroke-dasharray="1 1.2"/>
<line x1="756.4" y1="26" x2="756.4" y2="240" stroke="#d2d2d2" stroke-width="0.7" stroke-dasharray="1 1.2"/>
<line x1="799.5" y1="26" x2="799.5" y2="240" stroke="#d2d2d2" stroke-width="0.7" stroke-dasharray="1 1.2"/>
<line x1="842.5" y1="26" x2="842.5" y2="240" stroke="#d2d2d2" stroke-width="0.7" stroke-dasharray="1 1.2"/>
<line x1="885.5" y1="26" x2="885.5" y2="240" stroke="#d2d2d2" stroke-width="0.7" stroke-dasharray="1 1.2"/>
<line x1="624" y1="26" x2="896" y2="26" stroke="#dddddd" stroke-width="0.6" stroke-dasharray="1 1.2"/>
<rect x="627.07" y="121.4" width="1.83" height="110.0" fill="#d6eaf8"/>
<line x1="627.98" y1="120.2" x2="627.98" y2="231.4" stroke="#f0784a" stroke-width="1.25" stroke-dasharray="2.5 1.8" stroke-dashoffset="0.0"/>
<path d="M628.90,231.4 L628.90,119.9 L632.30,122.1 L632.30,231.4 Z" fill="#1f6fc0"/>
<rect x="632.30" y="121.8" width="1.83" height="109.6" fill="#d6eaf8"/>
<line x1="633.22" y1="120.6" x2="633.22" y2="231.4" stroke="#f0784a" stroke-width="1.25" stroke-dasharray="2.5 1.8" stroke-dashoffset="1.3"/>
<path d="M634.13,231.4 L634.13,120.3 L637.53,122.5 L637.53,231.4 Z" fill="#1f6fc0"/>
<rect x="637.53" y="122.0" width="1.83" height="109.4" fill="#d6eaf8"/>
<line x1="638.45" y1="120.8" x2="638.45" y2="231.4" stroke="#f0784a" stroke-width="1.25" stroke-dasharray="2.5 1.8" stroke-dashoffset="2.6"/>
<path d="M639.36,231.4 L639.36,120.5 L642.76,122.7 L642.76,231.4 Z" fill="#1f6fc0"/>
<rect x="642.76" y="120.6" width="1.83" height="110.8" fill="#d6eaf8"/>
<line x1="643.68" y1="119.4" x2="643.68" y2="231.4" stroke="#f0784a" stroke-width="1.25" stroke-dasharray="2.5 1.8" stroke-dashoffset="3.9"/>
<path d="M644.59,231.4 L644.59,119.1 L647.99,121.3 L647.99,231.4 Z" fill="#1f6fc0"/>
<rect x="647.99" y="118.3" width="1.83" height="113.1" fill="#d6eaf8"/>
<line x1="648.91" y1="117.1" x2="648.91" y2="231.4" stroke="#f0784a" stroke-width="1.25" stroke-dasharray="2.5 1.8" stroke-dashoffset="0.9"/>
<path d="M649.82,231.4 L649.82,116.8 L653.22,119.0 L653.22,231.4 Z" fill="#1f6fc0"/>
<rect x="653.22" y="116.4" width="1.83" height="115.0" fill="#d6eaf8"/>
<line x1="654.14" y1="115.2" x2="654.14" y2="231.4" stroke="#f0784a" stroke-width="1.25" stroke-dasharray="2.5 1.8" stroke-dashoffset="2.2"/>
<path d="M655.05,231.4 L655.05,114.9 L658.45,117.1 L658.45,231.4 Z" fill="#1f6fc0"/>
<rect x="658.45" y="114.6" width="1.83" height="116.8" fill="#d6eaf8"/>
<line x1="659.37" y1="113.4" x2="659.37" y2="231.4" stroke="#f0784a" stroke-width="1.25" stroke-dasharray="2.5 1.8" stroke-dashoffset="3.5"/>
<path d="M660.28,231.4 L660.28,113.1 L663.68,115.3 L663.68,231.4 Z" fill="#1f6fc0"/>
<rect x="663.68" y="112.7" width="1.83" height="118.7" fill="#d6eaf8"/>
<line x1="664.60" y1="111.5" x2="664.60" y2="231.4" stroke="#f0784a" stroke-width="1.25" stroke-dasharray="2.5 1.8" stroke-dashoffset="0.5"/>
<path d="M665.51,231.4 L665.51,111.2 L668.91,113.4 L668.91,231.4 Z" fill="#1f6fc0"/>
<rect x="668.91" y="110.9" width="1.83" height="120.5" fill="#d6eaf8"/>
<line x1="669.83" y1="109.7" x2="669.83" y2="231.4" stroke="#f0784a" stroke-width="1.25" stroke-dasharray="2.5 1.8" stroke-dashoffset="1.8"/>
<path d="M670.74,231.4 L670.74,109.4 L674.14,111.6 L674.14,231.4 Z" fill="#1f6fc0"/>
<rect x="674.14" y="109.1" width="1.83" height="122.3" fill="#d6eaf8"/>
<line x1="675.06" y1="107.9" x2="675.06" y2="231.4" stroke="#f0784a" stroke-width="1.25" stroke-dasharray="2.5 1.8" stroke-dashoffset="3.1"/>
<path d="M675.98,231.4 L675.98,107.6 L679.38,109.8 L679.38,231.4 Z" fill="#1f6fc0"/>
<rect x="679.38" y="107.3" width="1.83" height="124.1" fill="#d6eaf8"/>
<line x1="680.29" y1="106.1" x2="680.29" y2="231.4" stroke="#f0784a" stroke-width="1.25" stroke-dasharray="2.5 1.8" stroke-dashoffset="0.1"/>
<path d="M681.21,231.4 L681.21,105.8 L684.61,108.0 L684.61,231.4 Z" fill="#1f6fc0"/>
<rect x="684.61" y="105.5" width="1.83" height="125.9" fill="#d6eaf8"/>
<line x1="685.52" y1="104.3" x2="685.52" y2="231.4" stroke="#f0784a" stroke-width="1.25" stroke-dasharray="2.5 1.8" stroke-dashoffset="1.4"/>
<path d="M686.44,231.4 L686.44,104.0 L689.84,106.2 L689.84,231.4 Z" fill="#1f6fc0"/>
<rect x="689.84" y="103.8" width="1.83" height="127.6" fill="#d6eaf8"/>
<line x1="690.75" y1="102.6" x2="690.75" y2="231.4" stroke="#f0784a" stroke-width="1.25" stroke-dasharray="2.5 1.8" stroke-dashoffset="2.7"/>
<path d="M691.67,231.4 L691.67,102.3 L695.07,104.5 L695.07,231.4 Z" fill="#1f6fc0"/>
<rect x="695.07" y="102.0" width="1.83" height="129.4" fill="#d6eaf8"/>
<line x1="695.98" y1="100.8" x2="695.98" y2="231.4" stroke="#f0784a" stroke-width="1.25" stroke-dasharray="2.5 1.8" stroke-dashoffset="4.0"/>
<path d="M696.90,231.4 L696.90,100.5 L700.30,102.7 L700.30,231.4 Z" fill="#1f6fc0"/>
<rect x="700.30" y="100.2" width="1.83" height="131.2" fill="#d6eaf8"/>
<line x1="701.21" y1="99.0" x2="701.21" y2="231.4" stroke="#f0784a" stroke-width="1.25" stroke-dasharray="2.5 1.8" stroke-dashoffset="1.0"/>
<path d="M702.13,231.4 L702.13,98.7 L705.53,100.9 L705.53,231.4 Z" fill="#1f6fc0"/>
<rect x="705.53" y="98.8" width="1.83" height="132.6" fill="#d6eaf8"/>
<line x1="706.44" y1="97.6" x2="706.44" y2="231.4" stroke="#f0784a" stroke-width="1.25" stroke-dasharray="2.5 1.8" stroke-dashoffset="2.3"/>
<path d="M707.36,231.4 L707.36,97.3 L710.76,99.5 L710.76,231.4 Z" fill="#1f6fc0"/>
<rect x="710.76" y="97.4" width="1.83" height="134.0" fill="#d6eaf8"/>
<line x1="711.67" y1="96.2" x2="711.67" y2="231.4" stroke="#f0784a" stroke-width="1.25" stroke-dasharray="2.5 1.8" stroke-dashoffset="3.6"/>
<path d="M712.59,231.4 L712.59,95.9 L715.99,98.1 L715.99,231.4 Z" fill="#1f6fc0"/>
<rect x="715.99" y="96.1" width="1.83" height="135.3" fill="#d6eaf8"/>
<line x1="716.91" y1="94.9" x2="716.91" y2="231.4" stroke="#f0784a" stroke-width="1.25" stroke-dasharray="2.5 1.8" stroke-dashoffset="0.6"/>
<path d="M717.82,231.4 L717.82,94.6 L721.22,96.8 L721.22,231.4 Z" fill="#1f6fc0"/>
<rect x="721.22" y="94.7" width="1.83" height="136.7" fill="#d6eaf8"/>
<line x1="722.14" y1="93.5" x2="722.14" y2="231.4" stroke="#f0784a" stroke-width="1.25" stroke-dasharray="2.5 1.8" stroke-dashoffset="1.9"/>
<path d="M723.05,231.4 L723.05,93.2 L726.45,95.4 L726.45,231.4 Z" fill="#1f6fc0"/>
<rect x="726.45" y="93.3" width="1.83" height="138.1" fill="#d6eaf8"/>
<line x1="727.37" y1="92.1" x2="727.37" y2="231.4" stroke="#f0784a" stroke-width="1.25" stroke-dasharray="2.5 1.8" stroke-dashoffset="3.2"/>
<path d="M728.28,231.4 L728.28,91.8 L731.68,94.0 L731.68,231.4 Z" fill="#1f6fc0"/>
<rect x="731.68" y="91.9" width="1.83" height="139.5" fill="#d6eaf8"/>
<line x1="732.60" y1="90.7" x2="732.60" y2="231.4" stroke="#f0784a" stroke-width="1.25" stroke-dasharray="2.5 1.8" stroke-dashoffset="0.2"/>
<path d="M733.51,231.4 L733.51,90.4 L736.91,92.6 L736.91,231.4 Z" fill="#1f6fc0"/>
<rect x="736.91" y="90.6" width="1.83" height="140.8" fill="#d6eaf8"/>
<line x1="737.83" y1="89.4" x2="737.83" y2="231.4" stroke="#f0784a" stroke-width="1.25" stroke-dasharray="2.5 1.8" stroke-dashoffset="1.5"/>
<path d="M738.74,231.4 L738.74,89.1 L742.14,91.3 L742.14,231.4 Z" fill="#1f6fc0"/>
<rect x="742.14" y="89.2" width="1.83" height="142.2" fill="#d6eaf8"/>
<line x1="743.06" y1="88.0" x2="743.06" y2="231.4" stroke="#f0784a" stroke-width="1.25" stroke-dasharray="2.5 1.8" stroke-dashoffset="2.8"/>
<path d="M743.97,231.4 L743.97,87.7 L747.37,89.9 L747.37,231.4 Z" fill="#1f6fc0"/>
<rect x="747.37" y="87.8" width="1.83" height="143.6" fill="#d6eaf8"/>
<line x1="748.29" y1="86.6" x2="748.29" y2="231.4" stroke="#f0784a" stroke-width="1.25" stroke-dasharray="2.5 1.8" stroke-dashoffset="4.1"/>
<path d="M749.20,231.4 L749.20,86.3 L752.60,88.5 L752.60,231.4 Z" fill="#1f6fc0"/>
<rect x="752.60" y="86.3" width="1.83" height="145.1" fill="#d6eaf8"/>
<line x1="753.52" y1="85.1" x2="753.52" y2="231.4" stroke="#f0784a" stroke-width="1.25" stroke-dasharray="2.5 1.8" stroke-dashoffset="1.1"/>
<path d="M754.43,231.4 L754.43,84.8 L757.83,87.0 L757.83,231.4 Z" fill="#1f6fc0"/>
<rect x="757.83" y="84.8" width="1.83" height="146.6" fill="#d6eaf8"/>
<line x1="758.75" y1="83.6" x2="758.75" y2="231.4" stroke="#f0784a" stroke-width="1.25" stroke-dasharray="2.5 1.8" stroke-dashoffset="2.4"/>
<path d="M759.67,231.4 L759.67,83.3 L763.07,85.5 L763.07,231.4 Z" fill="#1f6fc0"/>
<rect x="763.07" y="83.4" width="1.83" height="148.0" fill="#d6eaf8"/>
<line x1="763.98" y1="82.2" x2="763.98" y2="231.4" stroke="#f0784a" stroke-width="1.25" stroke-dasharray="2.5 1.8" stroke-dashoffset="3.7"/>
<path d="M764.90,231.4 L764.90,81.9 L768.30,84.1 L768.30,231.4 Z" fill="#1f6fc0"/>
<rect x="768.30" y="81.9" width="1.83" height="149.5" fill="#d6eaf8"/>
<line x1="769.21" y1="80.7" x2="769.21" y2="231.4" stroke="#f0784a" stroke-width="1.25" stroke-dasharray="2.5 1.8" stroke-dashoffset="0.7"/>
<path d="M770.13,231.4 L770.13,80.4 L773.53,82.6 L773.53,231.4 Z" fill="#1f6fc0"/>
<rect x="773.53" y="80.4" width="1.83" height="151.0" fill="#d6eaf8"/>
<line x1="774.44" y1="79.2" x2="774.44" y2="231.4" stroke="#f0784a" stroke-width="1.25" stroke-dasharray="2.5 1.8" stroke-dashoffset="2.0"/>
<path d="M775.36,231.4 L775.36,78.9 L778.76,81.1 L778.76,231.4 Z" fill="#1f6fc0"/>
<rect x="778.76" y="78.9" width="1.83" height="152.5" fill="#d6eaf8"/>
<line x1="779.67" y1="77.7" x2="779.67" y2="231.4" stroke="#f0784a" stroke-width="1.25" stroke-dasharray="2.5 1.8" stroke-dashoffset="3.3"/>
<path d="M780.59,231.4 L780.59,77.4 L783.99,79.6 L783.99,231.4 Z" fill="#1f6fc0"/>
<rect x="783.99" y="77.5" width="1.83" height="153.9" fill="#d6eaf8"/>
<line x1="784.90" y1="76.3" x2="784.90" y2="231.4" stroke="#f0784a" stroke-width="1.25" stroke-dasharray="2.5 1.8" stroke-dashoffset="0.3"/>
<path d="M785.82,231.4 L785.82,76.0 L789.22,78.2 L789.22,231.4 Z" fill="#1f6fc0"/>
<rect x="789.22" y="76.0" width="1.83" height="155.4" fill="#d6eaf8"/>
<line x1="790.13" y1="74.8" x2="790.13" y2="231.4" stroke="#f0784a" stroke-width="1.25" stroke-dasharray="2.5 1.8" stroke-dashoffset="1.6"/>
<path d="M791.05,231.4 L791.05,74.5 L794.45,76.7 L794.45,231.4 Z" fill="#1f6fc0"/>
<rect x="794.45" y="74.5" width="1.83" height="156.9" fill="#d6eaf8"/>
<line x1="795.36" y1="73.3" x2="795.36" y2="231.4" stroke="#f0784a" stroke-width="1.25" stroke-dasharray="2.5 1.8" stroke-dashoffset="2.9"/>
<path d="M796.28,231.4 L796.28,73.0 L799.68,75.2 L799.68,231.4 Z" fill="#1f6fc0"/>
<rect x="799.68" y="73.1" width="1.83" height="158.3" fill="#d6eaf8"/>
<line x1="800.59" y1="71.9" x2="800.59" y2="231.4" stroke="#f0784a" stroke-width="1.25" stroke-dasharray="2.5 1.8" stroke-dashoffset="4.2"/>
<path d="M801.51,231.4 L801.51,71.6 L804.91,73.8 L804.91,231.4 Z" fill="#1f6fc0"/>
<rect x="804.91" y="71.6" width="1.83" height="159.8" fill="#d6eaf8"/>
<line x1="805.83" y1="70.4" x2="805.83" y2="231.4" stroke="#f0784a" stroke-width="1.25" stroke-dasharray="2.5 1.8" stroke-dashoffset="1.2"/>
<path d="M806.74,231.4 L806.74,70.1 L810.14,72.3 L810.14,231.4 Z" fill="#1f6fc0"/>
<rect x="810.14" y="70.2" width="1.83" height="161.2" fill="#d6eaf8"/>
<line x1="811.06" y1="69.0" x2="811.06" y2="231.4" stroke="#f0784a" stroke-width="1.25" stroke-dasharray="2.5 1.8" stroke-dashoffset="2.5"/>
<path d="M811.97,231.4 L811.97,68.7 L815.37,70.9 L815.37,231.4 Z" fill="#1f6fc0"/>
<rect x="815.37" y="68.8" width="1.83" height="162.6" fill="#d6eaf8"/>
<line x1="816.29" y1="67.6" x2="816.29" y2="231.4" stroke="#f0784a" stroke-width="1.25" stroke-dasharray="2.5 1.8" stroke-dashoffset="3.8"/>
<path d="M817.20,231.4 L817.20,67.3 L820.60,69.5 L820.60,231.4 Z" fill="#1f6fc0"/>
<rect x="820.60" y="67.4" width="1.83" height="164.0" fill="#d6eaf8"/>
<line x1="821.52" y1="66.2" x2="821.52" y2="231.4" stroke="#f0784a" stroke-width="1.25" stroke-dasharray="2.5 1.8" stroke-dashoffset="0.8"/>
<path d="M822.43,231.4 L822.43,65.9 L825.83,68.1 L825.83,231.4 Z" fill="#1f6fc0"/>
<rect x="825.83" y="65.9" width="1.83" height="165.5" fill="#d6eaf8"/>
<line x1="826.75" y1="64.7" x2="826.75" y2="231.4" stroke="#f0784a" stroke-width="1.25" stroke-dasharray="2.5 1.8" stroke-dashoffset="2.1"/>
<path d="M827.66,231.4 L827.66,64.4 L831.06,66.6 L831.06,231.4 Z" fill="#1f6fc0"/>
<rect x="831.06" y="64.5" width="1.83" height="166.9" fill="#d6eaf8"/>
<line x1="831.98" y1="63.3" x2="831.98" y2="231.4" stroke="#f0784a" stroke-width="1.25" stroke-dasharray="2.5 1.8" stroke-dashoffset="3.4"/>
<path d="M832.89,231.4 L832.89,63.0 L836.29,65.2 L836.29,231.4 Z" fill="#1f6fc0"/>
<rect x="836.29" y="63.1" width="1.83" height="168.3" fill="#d6eaf8"/>
<line x1="837.21" y1="61.9" x2="837.21" y2="231.4" stroke="#f0784a" stroke-width="1.25" stroke-dasharray="2.5 1.8" stroke-dashoffset="0.4"/>
<path d="M838.12,231.4 L838.12,61.6 L841.52,63.8 L841.52,231.4 Z" fill="#1f6fc0"/>
<rect x="841.52" y="61.9" width="1.83" height="169.5" fill="#d6eaf8"/>
<line x1="842.44" y1="60.7" x2="842.44" y2="231.4" stroke="#f0784a" stroke-width="1.25" stroke-dasharray="2.5 1.8" stroke-dashoffset="1.7"/>
<path d="M843.36,231.4 L843.36,60.4 L846.76,62.6 L846.76,231.4 Z" fill="#1f6fc0"/>
<rect x="846.76" y="60.7" width="1.83" height="170.7" fill="#d6eaf8"/>
<line x1="847.67" y1="59.5" x2="847.67" y2="231.4" stroke="#f0784a" stroke-width="1.25" stroke-dasharray="2.5 1.8" stroke-dashoffset="3.0"/>
<path d="M848.59,231.4 L848.59,59.2 L851.99,61.4 L851.99,231.4 Z" fill="#1f6fc0"/>
<rect x="851.99" y="59.5" width="1.83" height="171.9" fill="#d6eaf8"/>
<line x1="852.90" y1="58.3" x2="852.90" y2="231.4" stroke="#f0784a" stroke-width="1.25" stroke-dasharray="2.5 1.8" stroke-dashoffset="0.0"/>
<path d="M853.82,231.4 L853.82,58.0 L857.22,60.2 L857.22,231.4 Z" fill="#1f6fc0"/>
<rect x="857.22" y="58.3" width="1.83" height="173.1" fill="#d6eaf8"/>
<line x1="858.13" y1="57.1" x2="858.13" y2="231.4" stroke="#f0784a" stroke-width="1.25" stroke-dasharray="2.5 1.8" stroke-dashoffset="1.3"/>
<path d="M859.05,231.4 L859.05,56.8 L862.45,59.0 L862.45,231.4 Z" fill="#1f6fc0"/>
<rect x="862.45" y="57.1" width="1.83" height="174.3" fill="#d6eaf8"/>
<line x1="863.36" y1="55.9" x2="863.36" y2="231.4" stroke="#f0784a" stroke-width="1.25" stroke-dasharray="2.5 1.8" stroke-dashoffset="2.6"/>
<path d="M864.28,231.4 L864.28,55.6 L867.68,57.8 L867.68,231.4 Z" fill="#1f6fc0"/>
<rect x="867.68" y="55.9" width="1.83" height="175.5" fill="#d6eaf8"/>
<line x1="868.59" y1="54.7" x2="868.59" y2="231.4" stroke="#f0784a" stroke-width="1.25" stroke-dasharray="2.5 1.8" stroke-dashoffset="3.9"/>
<path d="M869.51,231.4 L869.51,54.4 L872.91,56.6 L872.91,231.4 Z" fill="#1f6fc0"/>
<rect x="872.91" y="54.9" width="1.83" height="176.5" fill="#d6eaf8"/>
<line x1="873.82" y1="53.7" x2="873.82" y2="231.4" stroke="#f0784a" stroke-width="1.25" stroke-dasharray="2.5 1.8" stroke-dashoffset="0.9"/>
<path d="M874.74,231.4 L874.74,53.4 L878.14,55.6 L878.14,231.4 Z" fill="#1f6fc0"/>
<rect x="878.14" y="53.8" width="1.83" height="177.6" fill="#d6eaf8"/>
<line x1="879.05" y1="52.6" x2="879.05" y2="231.4" stroke="#f0784a" stroke-width="1.25" stroke-dasharray="2.5 1.8" stroke-dashoffset="2.2"/>
<path d="M879.97,231.4 L879.97,52.3 L883.37,54.5 L883.37,231.4 Z" fill="#1f6fc0"/>
<rect x="883.37" y="52.8" width="1.83" height="178.6" fill="#d6eaf8"/>
<line x1="884.28" y1="51.6" x2="884.28" y2="231.4" stroke="#f0784a" stroke-width="1.25" stroke-dasharray="2.5 1.8" stroke-dashoffset="3.5"/>
<path d="M885.20,231.4 L885.20,51.3 L888.60,53.5 L888.60,231.4 Z" fill="#1f6fc0"/>
<line x1="628" y1="231.6" x2="896" y2="231.6" stroke="#f06a3a" stroke-width="0.9" stroke-dasharray="2.5 1.5"/>
<line x1="630" y1="118.5" x2="870.5" y2="49.5" stroke="#e8501c" stroke-width="1.4"/>
<path d="M866.2,47.3 L872.4,49 L867.6,53" fill="none" stroke="#e8501c" stroke-width="1.3"/>
<path d="M628,25.7 L623.9,25.7 L623.9,240.1 L896.3,240.1 L896.3,236" fill="none" stroke="#333" stroke-width="1.4"/>
<line x1="618.8" y1="185.8" x2="624" y2="185.8" stroke="#333" stroke-width="1.3"/>
<text x="615.4" y="189.0" font-family='"Liberation Sans", sans-serif' font-size="8.8" fill="#222" text-anchor="end" font-weight="bold" >2000</text>
<line x1="618.8" y1="140.2" x2="624" y2="140.2" stroke="#333" stroke-width="1.3"/>
<text x="615.4" y="143.4" font-family='"Liberation Sans", sans-serif' font-size="8.8" fill="#222" text-anchor="end" font-weight="bold" >4000</text>
<line x1="618.8" y1="94.6" x2="624" y2="94.6" stroke="#333" stroke-width="1.3"/>
<text x="615.4" y="97.8" font-family='"Liberation Sans", sans-serif' font-size="8.8" fill="#222" text-anchor="end" font-weight="bold" >6000</text>
<line x1="618.8" y1="49.0" x2="624" y2="49.0" stroke="#333" stroke-width="1.3"/>
<text x="615.4" y="52.2" font-family='"Liberation Sans", sans-serif' font-size="8.8" fill="#222" text-anchor="end" font-weight="bold" >8000</text>
<line x1="670.4" y1="240" x2="670.4" y2="244.2" stroke="#333" stroke-width="1.3"/>
<text x="670.4" y="254.0" font-family='"Liberation Sans", sans-serif' font-size="8.8" fill="#222" text-anchor="middle" font-weight="bold" >20</text>
<line x1="713.4" y1="240" x2="713.4" y2="244.2" stroke="#333" stroke-width="1.3"/>
<text x="713.4" y="254.0" font-family='"Liberation Sans", sans-serif' font-size="8.8" fill="#222" text-anchor="middle" font-weight="bold" >40</text>
<line x1="756.4" y1="240" x2="756.4" y2="244.2" stroke="#333" stroke-width="1.3"/>
<text x="756.4" y="254.0" font-family='"Liberation Sans", sans-serif' font-size="8.8" fill="#222" text-anchor="middle" font-weight="bold" >60</text>
<line x1="799.5" y1="240" x2="799.5" y2="244.2" stroke="#333" stroke-width="1.3"/>
<text x="799.5" y="254.0" font-family='"Liberation Sans", sans-serif' font-size="8.8" fill="#222" text-anchor="middle" font-weight="bold" >80</text>
<line x1="842.5" y1="240" x2="842.5" y2="244.2" stroke="#333" stroke-width="1.3"/>
<text x="842.5" y="254.0" font-family='"Liberation Sans", sans-serif' font-size="8.8" fill="#222" text-anchor="middle" font-weight="bold" >100</text>
<line x1="885.5" y1="240" x2="885.5" y2="244.2" stroke="#333" stroke-width="1.3"/>
<text x="885.5" y="254.0" font-family='"Liberation Sans", sans-serif' font-size="8.8" fill="#222" text-anchor="middle" font-weight="bold" >120</text>
<text x="768.8" y="266.9" font-family='"Liberation Sans", sans-serif' font-size="8.8" fill="#222" text-anchor="middle" font-weight="bold" textLength="35.0" lengthAdjust="spacingAndGlyphs" >Time (s)</text>
<text x="592.2" y="128.0" font-family='"Liberation Sans", sans-serif' font-size="8.8" fill="#222" text-anchor="middle" font-weight="bold" transform="rotate(-90 592.2 128.0)" >EPSC (nA)</text>
<text x="627.2" y="43.0" font-family='"Liberation Sans", sans-serif' font-size="9.3" fill="#1f6fc0" font-weight="bold" textLength="114.8" lengthAdjust="spacingAndGlyphs" >Stimulated SCN_1mM KCl</text>
<text x="727.9" y="78.4" font-family='"Liberation Sans", sans-serif' font-size="9" fill="#e8501c" font-weight="bold" textLength="17.6" lengthAdjust="spacingAndGlyphs" >PPF</text>
<text x="774.1" y="40.7" font-family='"Liberation Sans", sans-serif' font-size="9.42" fill="#1f6fc0" font-weight="bold" >w = 1.5s , t = 0.5s, V<tspan font-size="6" dy="2.3">A</tspan><tspan dy="-2.3">=10V</tspan></text>
</g>
<g id="panelD">
<text x="912.8" y="36.0" font-family='"Liberation Sans", sans-serif' font-size="19" fill="#000" font-weight="bold" >d)</text>
<rect x="992.6" y="51.2" width="222.2" height="37" fill="#fdd9b6"/>
<rect x="1060.8" y="111.7" width="38" height="100.5" fill="#b9d5ec"/>
<line x1="986.8" y1="213.1" x2="1206" y2="213.1" stroke="#3f9e3f" stroke-width="1.3" stroke-dasharray="6.3 3.9"/>
<rect x="1111" y="140.3" width="106.2" height="63.5" fill="#fff" stroke="#d4d4d4" stroke-width="0.6"/>
<line x1="1116.5" y1="141" x2="1116.5" y2="203.5" stroke="#ececf2" stroke-width="0.4"/>
<line x1="1116.5" y1="203.8" x2="1116.5" y2="205.4" stroke="#888" stroke-width="0.4"/>
<line x1="1121.1" y1="141" x2="1121.1" y2="203.5" stroke="#ececf2" stroke-width="0.4"/>
<line x1="1121.1" y1="203.8" x2="1121.1" y2="205.4" stroke="#888" stroke-width="0.4"/>
<line x1="1125.6" y1="141" x2="1125.6" y2="203.5" stroke="#ececf2" stroke-width="0.4"/>
<line x1="1125.6" y1="203.8" x2="1125.6" y2="205.4" stroke="#888" stroke-width="0.4"/>
<line x1="1130.2" y1="141" x2="1130.2" y2="203.5" stroke="#ececf2" stroke-width="0.4"/>
<line x1="1130.2" y1="203.8" x2="1130.2" y2="205.4" stroke="#888" stroke-width="0.4"/>
<line x1="1134.8" y1="141" x2="1134.8" y2="203.5" stroke="#ececf2" stroke-width="0.4"/>
<line x1="1134.8" y1="203.8" x2="1134.8" y2="205.4" stroke="#888" stroke-width="0.4"/>
<line x1="1139.3" y1="141" x2="1139.3" y2="203.5" stroke="#ececf2" stroke-width="0.4"/>
<line x1="1139.3" y1="203.8" x2="1139.3" y2="205.4" stroke="#888" stroke-width="0.4"/>
<line x1="1143.9" y1="141" x2="1143.9" y2="203.5" stroke="#ececf2" stroke-width="0.4"/>
<line x1="1143.9" y1="203.8" x2="1143.9" y2="205.4" stroke="#888" stroke-width="0.4"/>
<line x1="1148.5" y1="141" x2="1148.5" y2="203.5" stroke="#ececf2" stroke-width="0.4"/>
<line x1="1148.5" y1="203.8" x2="1148.5" y2="205.4" stroke="#888" stroke-width="0.4"/>
<line x1="1153.1" y1="141" x2="1153.1" y2="203.5" stroke="#ececf2" stroke-width="0.4"/>
<line x1="1153.1" y1="203.8" x2="1153.1" y2="205.4" stroke="#888" stroke-width="0.4"/>
<line x1="1157.6" y1="141" x2="1157.6" y2="203.5" stroke="#ececf2" stroke-width="0.4"/>
<line x1="1157.6" y1="203.8" x2="1157.6" y2="205.4" stroke="#888" stroke-width="0.4"/>
<line x1="1162.2" y1="141" x2="1162.2" y2="203.5" stroke="#ececf2" stroke-width="0.4"/>
<line x1="1162.2" y1="203.8" x2="1162.2" y2="205.4" stroke="#888" stroke-width="0.4"/>
<line x1="1166.8" y1="141" x2="1166.8" y2="203.5" stroke="#ececf2" stroke-width="0.4"/>
<line x1="1166.8" y1="203.8" x2="1166.8" y2="205.4" stroke="#888" stroke-width="0.4"/>
<line x1="1171.3" y1="141" x2="1171.3" y2="203.5" stroke="#ececf2" stroke-width="0.4"/>
<line x1="1171.3" y1="203.8" x2="1171.3" y2="205.4" stroke="#888" stroke-width="0.4"/>
<line x1="1175.9" y1="141" x2="1175.9" y2="203.5" stroke="#ececf2" stroke-width="0.4"/>
<line x1="1175.9" y1="203.8" x2="1175.9" y2="205.4" stroke="#888" stroke-width="0.4"/>
<line x1="1180.5" y1="141" x2="1180.5" y2="203.5" stroke="#ececf2" stroke-width="0.4"/>
<line x1="1180.5" y1="203.8" x2="1180.5" y2="205.4" stroke="#888" stroke-width="0.4"/>
<line x1="1185.0" y1="141" x2="1185.0" y2="203.5" stroke="#ececf2" stroke-width="0.4"/>
<line x1="1185.0" y1="203.8" x2="1185.0" y2="205.4" stroke="#888" stroke-width="0.4"/>
<line x1="1189.6" y1="141" x2="1189.6" y2="203.5" stroke="#ececf2" stroke-width="0.4"/>
<line x1="1189.6" y1="203.8" x2="1189.6" y2="205.4" stroke="#888" stroke-width="0.4"/>
<line x1="1194.2" y1="141" x2="1194.2" y2="203.5" stroke="#ececf2" stroke-width="0.4"/>
<line x1="1194.2" y1="203.8" x2="1194.2" y2="205.4" stroke="#888" stroke-width="0.4"/>
<line x1="1198.8" y1="141" x2="1198.8" y2="203.5" stroke="#ececf2" stroke-width="0.4"/>
<line x1="1198.8" y1="203.8" x2="1198.8" y2="205.4" stroke="#888" stroke-width="0.4"/>
<line x1="1203.3" y1="141" x2="1203.3" y2="203.5" stroke="#ececf2" stroke-width="0.4"/>
<line x1="1203.3" y1="203.8" x2="1203.3" y2="205.4" stroke="#888" stroke-width="0.4"/>
<line x1="1207.9" y1="141" x2="1207.9" y2="203.5" stroke="#ececf2" stroke-width="0.4"/>
<line x1="1207.9" y1="203.8" x2="1207.9" y2="205.4" stroke="#888" stroke-width="0.4"/>
<line x1="1212.5" y1="141" x2="1212.5" y2="203.5" stroke="#ececf2" stroke-width="0.4"/>
<line x1="1212.5" y1="203.8" x2="1212.5" y2="205.4" stroke="#888" stroke-width="0.4"/>
<line x1="1111" y1="150.3" x2="1217" y2="150.3" stroke="#e4e4ec" stroke-width="0.4"/>
<rect x="1138.2" y="150.3" width="53.8" height="48" fill="#c4c4f6"/>
<line x1="1139.20" y1="150.8" x2="1139.20" y2="198.3" stroke="#b0b0f0" stroke-width="0.5" opacity="0.40"/>
<line x1="1141.27" y1="150.8" x2="1141.27" y2="198.3" stroke="#b0b0f0" stroke-width="0.5" opacity="0.70"/>
<line x1="1143.34" y1="150.8" x2="1143.34" y2="198.3" stroke="#b0b0f0" stroke-width="0.5" opacity="1.00"/>
<line x1="1145.41" y1="150.8" x2="1145.41" y2="198.3" stroke="#b0b0f0" stroke-width="0.5" opacity="0.55"/>
<line x1="1147.48" y1="150.8" x2="1147.48" y2="198.3" stroke="#b0b0f0" stroke-width="0.5" opacity="0.85"/>
<line x1="1149.55" y1="150.8" x2="1149.55" y2="198.3" stroke="#b0b0f0" stroke-width="0.5" opacity="0.40"/>
<line x1="1151.62" y1="150.8" x2="1151.62" y2="198.3" stroke="#b0b0f0" stroke-width="0.5" opacity="0.70"/>
<line x1="1153.69" y1="150.8" x2="1153.69" y2="198.3" stroke="#b0b0f0" stroke-width="0.5" opacity="1.00"/>
<line x1="1155.76" y1="150.8" x2="1155.76" y2="198.3" stroke="#b0b0f0" stroke-width="0.5" opacity="0.55"/>
<line x1="1157.83" y1="150.8" x2="1157.83" y2="198.3" stroke="#b0b0f0" stroke-width="0.5" opacity="0.85"/>
<line x1="1159.90" y1="150.8" x2="1159.90" y2="198.3" stroke="#b0b0f0" stroke-width="0.5" opacity="0.40"/>
<line x1="1161.97" y1="150.8" x2="1161.97" y2="198.3" stroke="#b0b0f0" stroke-width="0.5" opacity="0.70"/>
<line x1="1164.04" y1="150.8" x2="1164.04" y2="198.3" stroke="#b0b0f0" stroke-width="0.5" opacity="1.00"/>
<line x1="1166.11" y1="150.8" x2="1166.11" y2="198.3" stroke="#b0b0f0" stroke-width="0.5" opacity="0.55"/>
<line x1="1168.18" y1="150.8" x2="1168.18" y2="198.3" stroke="#b0b0f0" stroke-width="0.5" opacity="0.85"/>
<line x1="1170.25" y1="150.8" x2="1170.25" y2="198.3" stroke="#b0b0f0" stroke-width="0.5" opacity="0.40"/>
<line x1="1172.32" y1="150.8" x2="1172.32" y2="198.3" stroke="#b0b0f0" stroke-width="0.5" opacity="0.70"/>
<line x1="1174.39" y1="150.8" x2="1174.39" y2="198.3" stroke="#b0b0f0" stroke-width="0.5" opacity="1.00"/>
<line x1="1176.46" y1="150.8" x2="1176.46" y2="198.3" stroke="#b0b0f0" stroke-width="0.5" opacity="0.55"/>
<line x1="1178.53" y1="150.8" x2="1178.53" y2="198.3" stroke="#b0b0f0" stroke-width="0.5" opacity="0.85"/>
<line x1="1180.60" y1="150.8" x2="1180.60" y2="198.3" stroke="#b0b0f0" stroke-width="0.5" opacity="0.40"/>
<line x1="1182.67" y1="150.8" x2="1182.67" y2="198.3" stroke="#b0b0f0" stroke-width="0.5" opacity="0.70"/>
<line x1="1184.74" y1="150.8" x2="1184.74" y2="198.3" stroke="#b0b0f0" stroke-width="0.5" opacity="1.00"/>
<line x1="1186.81" y1="150.8" x2="1186.81" y2="198.3" stroke="#b0b0f0" stroke-width="0.5" opacity="0.55"/>
<line x1="1188.88" y1="150.8" x2="1188.88" y2="198.3" stroke="#b0b0f0" stroke-width="0.5" opacity="0.85"/>
<line x1="1190.95" y1="150.8" x2="1190.95" y2="198.3" stroke="#b0b0f0" stroke-width="0.5" opacity="0.40"/>
<line x1="1116.5" y1="198.4" x2="1211.7" y2="198.4" stroke="#9a9af0" stroke-width="0.8"/>
<text x="1164.0" y="148.3" font-family='"Liberation Sans", sans-serif' font-size="4.9" fill="#1e7a1e" text-anchor="middle" font-weight="bold" textLength="53.4" lengthAdjust="spacingAndGlyphs" >spiking pulse to raise G</text>
<text x="1120.9" y="196.8" font-family='"Liberation Sans", sans-serif' font-size="5.2" fill="#1e7a1e" font-weight="bold" textLength="11.5" lengthAdjust="spacingAndGlyphs" >0.1V</text>
<text x="1195.1" y="196.8" font-family='"Liberation Sans", sans-serif' font-size="5.2" fill="#1e7a1e" font-weight="bold" textLength="11.8" lengthAdjust="spacingAndGlyphs" >0.1V</text>
<text x="1164.5" y="139.4" font-family='"Liberation Sans", sans-serif' font-size="2.2" fill="#555" text-anchor="middle" >Applied Voltage Over Time</text>
<text x="1164.5" y="208.5" font-family='"Liberation Sans", sans-serif' font-size="2.2" fill="#666" text-anchor="middle" >Time (s)</text>
<text x="1107.5" y="171.0" font-family='"Liberation Sans", sans-serif' font-size="2" fill="#666" text-anchor="middle" transform="rotate(-90 1107.5 171.0)" >Voltage (V)</text>
<text x="1109.5" y="151.2" font-family='"Liberation Sans", sans-serif' font-size="2" fill="#666" text-anchor="end" >10</text>
<text x="1109.5" y="199.2" font-family='"Liberation Sans", sans-serif' font-size="2" fill="#666" text-anchor="end" >0</text>
<polyline points="994.7,87.3 996.4,85.0 998.0,83.7 1000.2,82.5 1002.5,81.2 1004.3,81.2 1006.2,80.2 1008.0,79.9 1009.8,78.9 1011.5,79.4 1013.3,78.1 1015.1,77.6 1016.8,77.3 1018.5,77.2 1020.3,75.9 1022.0,76.1 1023.8,75.1 1025.7,74.6 1027.5,74.2 1029.3,73.0 1030.9,72.3 1032.5,70.6 1035.6,67.8 1037.3,68.7 1039.0,67.7 1040.6,67.9 1042.3,68.1 1044.0,67.7 1045.8,67.1 1047.5,67.2 1049.2,67.0 1051.0,67.1 1052.8,66.0 1054.5,66.4 1056.4,65.6 1058.2,65.2 1060.1,65.6 1062.0,64.8 1063.6,64.4 1065.2,64.2 1066.8,64.0 1068.4,62.9 1070.0,62.7 1071.6,62.1 1073.2,61.7 1074.8,61.6 1076.4,60.8 1078.0,60.5 1079.8,59.9 1081.5,60.0 1083.2,59.1 1085.0,58.7 1087.0,55.0" fill="none" stroke="#ea5a14" stroke-width="6" stroke-linecap="round" stroke-linejoin="round"/>
<polyline points="1086.5,58 1087.8,36.5 1089.2,40 1090.2,58 1092,66 1096,70.3" fill="none" stroke="#ea5a14" stroke-width="4.6" stroke-linecap="round" stroke-linejoin="round"/>
<polyline points="1096.0,70.8 1097.6,70.2 1099.2,70.5 1100.8,71.0 1102.4,70.9 1104.0,70.2 1105.6,70.0 1107.2,70.1 1108.8,69.6 1110.4,69.5 1112.0,69.2 1113.6,69.8 1115.2,70.0 1116.8,70.2 1118.4,69.6 1120.0,70.2 1121.6,69.9 1123.2,69.2 1124.8,69.7 1126.4,69.5 1128.0,68.5 1129.6,69.1 1131.2,68.5 1132.8,68.4 1134.4,68.8 1136.0,68.5 1137.6,67.7 1139.2,67.9 1140.8,67.8 1142.4,67.5 1144.0,67.2 1145.6,67.1 1147.2,67.4 1148.8,66.5 1150.4,66.8 1152.0,66.5 1153.6,65.8 1155.2,65.7 1156.9,65.7 1158.5,65.2 1160.5,57.6 1161.5,51.0 1164.0,49.3 1166.3,51.5 1167.0,61.6 1168.0,67.4 1170.0,67.1 1172.0,67.9 1174.0,67.4 1176.0,67.0 1178.0,67.0 1180.0,67.2 1183.0,63.3 1185.0,60.4 1187.0,60.0 1189.0,60.6 1191.0,60.6 1193.0,61.0 1194.5,64.1 1196.0,65.8 1197.8,66.2 1199.5,65.8 1201.2,65.3 1203.0,66.0 1204.7,65.5 1206.3,65.5 1208.0,64.6 1209.8,64.7 1211.5,63.6" fill="none" stroke="#ea5a14" stroke-width="6" stroke-linecap="round" stroke-linejoin="round"/>
<circle cx="998.6" cy="152.1" r="2" fill="#1f74c4"/>
<circle cx="998.6" cy="146" r="2" fill="#1f74c4"/>
<circle cx="998.6" cy="144.2" r="2" fill="#1f74c4"/>
<circle cx="998.6" cy="136.9" r="2" fill="#1f74c4"/>
<circle cx="998.7" cy="131.6" r="2" fill="#1f74c4"/>
<circle cx="998.8" cy="128" r="2" fill="#1f74c4"/>
<polyline points="998.8,126.7 999.2,118.3 1000.2,110.0 1002.3,104.9 1005.0,102.6 1007.3,102.2 1008.9,102.2 1010.5,102.5 1012.2,103.8 1014.0,104.6 1015.4,104.6 1016.9,104.7 1018.3,104.7 1020.1,106.2 1022.0,107.7 1023.5,108.9 1025.0,110.5 1026.5,111.5 1028.0,112.5 1029.4,113.2 1030.9,114.3 1032.4,114.6 1034.0,115.2 1035.5,115.6 1037.0,116.6 1038.6,116.9 1040.2,117.2 1041.9,117.9 1043.5,118.7 1045.1,118.6 1046.8,119.6 1048.4,119.8 1050.0,120.3 1051.5,120.9 1053.0,121.0 1054.5,121.4 1056.0,121.9 1057.7,122.9 1059.3,123.3 1061.0,124.4 1062.5,125.3 1064.0,126.2 1065.5,126.9 1067.2,128.3 1068.8,129.5 1070.5,130.9 1072.0,132.4 1073.4,134.4 1074.9,135.6 1076.6,138.4 1078.3,141.2 1079.8,145.1 1081.2,148.5 1083.3,156.1 1085.0,165.3 1086.8,174.1 1088.5,182.9 1090.2,190.5 1092.0,197.8 1093.7,204.4 1095.3,210.9" fill="none" stroke="#1f74c4" stroke-width="6.6" stroke-linecap="round" stroke-linejoin="round"/>
<polyline points="986.3,54 986.1,59 987.2,63.5 987.8,65.8" fill="none" stroke="#e8501c" stroke-width="5.6" stroke-linecap="round" stroke-linejoin="round"/>
<polyline points="988.5,39.2 987.8,46 987.2,51.5 986.6,57 986.7,61.8" fill="none" stroke="#1f74c4" stroke-width="4.6" stroke-linecap="round" stroke-linejoin="round"/>
<circle cx="981" cy="208.6" r="2.6" fill="#e8501c"/><circle cx="983.6" cy="208.9" r="2.6" fill="#e8501c"/>
<circle cx="980.2" cy="210.6" r="2.3" fill="#1f74c4"/><circle cx="982.4" cy="210" r="2.6" fill="#1f74c4"/><circle cx="984.4" cy="211.7" r="2.2" fill="#1f74c4"/>
<path d="M1023.8,39.3 C1019.5,29.5 1005,28.8 992.4,35.2" fill="none" stroke="#2e8b2e" stroke-width="1.1"/>
<path d="M996.6,30.6 L991.6,35.5 L998.6,36.4" fill="none" stroke="#2e8b2e" stroke-width="1.1"/>
<text x="995.5" y="47.8" font-family='"Liberation Sans", sans-serif' font-size="8.9" fill="#2e8b2e" font-weight="bold" textLength="58.7" lengthAdjust="spacingAndGlyphs" >Pulses applied</text>
<text x="1096.3" y="44.9" font-family='"Liberation Sans", sans-serif' font-size="8.9" fill="#e8501c" font-weight="bold" textLength="89.4" lengthAdjust="spacingAndGlyphs" >long term potentiation</text>
<text x="1062.8" y="109.7" font-family='"Liberation Sans", sans-serif' font-size="8.9" fill="#1f74c4" font-weight="bold" textLength="93.0" lengthAdjust="spacingAndGlyphs" >short term potentiation</text>
<text x="977.7" y="201.0" font-family='"Liberation Sans", sans-serif' font-size="8.9" fill="#2e8b2e" font-weight="bold" textLength="76.5" lengthAdjust="spacingAndGlyphs" >Initial conductance</text>
<line x1="969.2" y1="26.5" x2="1219.8" y2="26.5" stroke="#555" stroke-width="1.3"/>
<line x1="969.2" y1="227.2" x2="1219.8" y2="227.2" stroke="#333" stroke-width="1.4"/>
<line x1="969.8" y1="26" x2="969.8" y2="227.8" stroke="#e8501c" stroke-width="1.5"/>
<line x1="1219.2" y1="26" x2="1219.2" y2="227.8" stroke="#1f74c4" stroke-width="1.5"/>
<line x1="965.6" y1="210.4" x2="970" y2="210.4" stroke="#e8501c" stroke-width="1.2"/>
<text x="963.8" y="213.5" font-family='"Liberation Sans", sans-serif' font-size="8.6" fill="#e8501c" text-anchor="end" >100</text>
<line x1="965.6" y1="177.0" x2="970" y2="177.0" stroke="#e8501c" stroke-width="1.2"/>
<text x="963.8" y="180.1" font-family='"Liberation Sans", sans-serif' font-size="8.6" fill="#e8501c" text-anchor="end" >120</text>
<line x1="965.6" y1="143.6" x2="970" y2="143.6" stroke="#e8501c" stroke-width="1.2"/>
<text x="963.8" y="146.7" font-family='"Liberation Sans", sans-serif' font-size="8.6" fill="#e8501c" text-anchor="end" >140</text>
<line x1="965.6" y1="110.3" x2="970" y2="110.3" stroke="#e8501c" stroke-width="1.2"/>
<text x="963.8" y="113.4" font-family='"Liberation Sans", sans-serif' font-size="8.6" fill="#e8501c" text-anchor="end" >160</text>
<line x1="965.6" y1="76.9" x2="970" y2="76.9" stroke="#e8501c" stroke-width="1.2"/>
<text x="963.8" y="80.0" font-family='"Liberation Sans", sans-serif' font-size="8.6" fill="#e8501c" text-anchor="end" >180</text>
<line x1="965.6" y1="43.5" x2="970" y2="43.5" stroke="#e8501c" stroke-width="1.2"/>
<text x="963.8" y="46.6" font-family='"Liberation Sans", sans-serif' font-size="8.6" fill="#e8501c" text-anchor="end" >200</text>
<line x1="967.4" y1="193.7" x2="970" y2="193.7" stroke="#e8501c" stroke-width="1"/>
<line x1="967.4" y1="160.3" x2="970" y2="160.3" stroke="#e8501c" stroke-width="1"/>
<line x1="967.4" y1="127.0" x2="970" y2="127.0" stroke="#e8501c" stroke-width="1"/>
<line x1="967.4" y1="93.6" x2="970" y2="93.6" stroke="#e8501c" stroke-width="1"/>
<line x1="967.4" y1="60.2" x2="970" y2="60.2" stroke="#e8501c" stroke-width="1"/>
<line x1="1219" y1="208.5" x2="1223.3" y2="208.5" stroke="#1f74c4" stroke-width="1.2"/>
<text x="1225.6" y="211.6" font-family='"Liberation Sans", sans-serif' font-size="8.6" fill="#1f74c4" >100</text>
<line x1="1219" y1="163.0" x2="1223.3" y2="163.0" stroke="#1f74c4" stroke-width="1.2"/>
<text x="1225.6" y="166.1" font-family='"Liberation Sans", sans-serif' font-size="8.6" fill="#1f74c4" >150</text>
<line x1="1219" y1="117.5" x2="1223.3" y2="117.5" stroke="#1f74c4" stroke-width="1.2"/>
<text x="1225.6" y="120.6" font-family='"Liberation Sans", sans-serif' font-size="8.6" fill="#1f74c4" >200</text>
<line x1="1219" y1="72.0" x2="1223.3" y2="72.0" stroke="#1f74c4" stroke-width="1.2"/>
<text x="1225.6" y="75.1" font-family='"Liberation Sans", sans-serif' font-size="8.6" fill="#1f74c4" >250</text>
<line x1="1219" y1="26.5" x2="1223.3" y2="26.5" stroke="#1f74c4" stroke-width="1.2"/>
<text x="1225.6" y="29.6" font-family='"Liberation Sans", sans-serif' font-size="8.6" fill="#1f74c4" >300</text>
<line x1="1219" y1="185.8" x2="1221.5" y2="185.8" stroke="#1f74c4" stroke-width="1"/>
<line x1="1219" y1="140.2" x2="1221.5" y2="140.2" stroke="#1f74c4" stroke-width="1"/>
<line x1="1219" y1="94.8" x2="1221.5" y2="94.8" stroke="#1f74c4" stroke-width="1"/>
<line x1="1219" y1="49.2" x2="1221.5" y2="49.2" stroke="#1f74c4" stroke-width="1"/>
<line x1="979.7" y1="227" x2="979.7" y2="230.8" stroke="#333" stroke-width="1.1"/>
<text x="979.7" y="240.4" font-family='"Liberation Sans", sans-serif' font-size="8.6" fill="#444" text-anchor="middle" >0</text>
<line x1="1018.0" y1="227" x2="1018.0" y2="230.8" stroke="#333" stroke-width="1.1"/>
<text x="1018.0" y="240.4" font-family='"Liberation Sans", sans-serif' font-size="8.6" fill="#444" text-anchor="middle" >200</text>
<line x1="1056.2" y1="227" x2="1056.2" y2="230.8" stroke="#333" stroke-width="1.1"/>
<text x="1056.2" y="240.4" font-family='"Liberation Sans", sans-serif' font-size="8.6" fill="#444" text-anchor="middle" >400</text>
<line x1="1094.5" y1="227" x2="1094.5" y2="230.8" stroke="#333" stroke-width="1.1"/>
<text x="1094.5" y="240.4" font-family='"Liberation Sans", sans-serif' font-size="8.6" fill="#444" text-anchor="middle" >600</text>
<line x1="1132.8" y1="227" x2="1132.8" y2="230.8" stroke="#333" stroke-width="1.1"/>
<text x="1132.8" y="240.4" font-family='"Liberation Sans", sans-serif' font-size="8.6" fill="#444" text-anchor="middle" >800</text>
<line x1="1171.0" y1="227" x2="1171.0" y2="230.8" stroke="#333" stroke-width="1.1"/>
<text x="1171.0" y="240.4" font-family='"Liberation Sans", sans-serif' font-size="8.6" fill="#444" text-anchor="middle" >1000</text>
<line x1="1209.3" y1="227" x2="1209.3" y2="230.8" stroke="#333" stroke-width="1.1"/>
<text x="1209.3" y="240.4" font-family='"Liberation Sans", sans-serif' font-size="8.6" fill="#444" text-anchor="middle" >1200</text>
<line x1="998.8" y1="227" x2="998.8" y2="229.3" stroke="#333" stroke-width="1"/>
<line x1="1037.1" y1="227" x2="1037.1" y2="229.3" stroke="#333" stroke-width="1"/>
<line x1="1075.4" y1="227" x2="1075.4" y2="229.3" stroke="#333" stroke-width="1"/>
<line x1="1113.6" y1="227" x2="1113.6" y2="229.3" stroke="#333" stroke-width="1"/>
<line x1="1151.9" y1="227" x2="1151.9" y2="229.3" stroke="#333" stroke-width="1"/>
<line x1="1190.2" y1="227" x2="1190.2" y2="229.3" stroke="#333" stroke-width="1"/>
<text x="1095.8" y="256.5" font-family='"Liberation Sans", sans-serif' font-size="10.5" fill="#333" text-anchor="middle" textLength="37.7" lengthAdjust="spacingAndGlyphs" >Time (s)</text>
<text x="943.2" y="122.7" font-family='"Liberation Sans", sans-serif' font-size="10.8" fill="#e8501c" text-anchor="middle" font-weight="bold" textLength="113.0" lengthAdjust="spacingAndGlyphs" transform="rotate(-90 943.2 122.7)" >1st stimulation G (%)</text>
<text x="1252.2" y="125.5" font-family='"Liberation Sans", sans-serif' font-size="10.8" fill="#1f74c4" text-anchor="middle" font-weight="bold" textLength="109.5" lengthAdjust="spacingAndGlyphs" transform="rotate(-90 1252.2 125.5)" >2nd stimulation G (%)</text>
</g>
<g id="panelE">
<text x="594.2" y="277.2" font-family='"Liberation Sans", sans-serif' font-size="19" fill="#000" font-weight="bold" >e)</text>
<path d="M614.55,416.4 L614.55,345.3 Q616.00,343.6 617.45,345.3 L617.45,416.4 Z" fill="#a9b7dc" stroke="#26468e" stroke-width="1.2"/>
<path d="M619.92,416.4 L619.92,346.9 Q621.38,345.2 622.83,346.9 L622.83,416.4 Z" fill="#a9b7dc" stroke="#26468e" stroke-width="1.2"/>
<path d="M625.30,416.4 L625.30,345.0 Q626.75,343.3 628.20,345.0 L628.20,416.4 Z" fill="#a9b7dc" stroke="#26468e" stroke-width="1.2"/>
<path d="M630.67,416.4 L630.67,342.5 Q632.12,340.8 633.58,342.5 L633.58,416.4 Z" fill="#a9b7dc" stroke="#26468e" stroke-width="1.2"/>
<path d="M636.05,416.4 L636.05,340.6 Q637.50,338.9 638.95,340.6 L638.95,416.4 Z" fill="#a9b7dc" stroke="#26468e" stroke-width="1.2"/>
<path d="M641.42,416.4 L641.42,337.8 Q642.88,336.1 644.33,337.8 L644.33,416.4 Z" fill="#a9b7dc" stroke="#26468e" stroke-width="1.2"/>
<path d="M646.80,416.4 L646.80,335.6 Q648.25,333.9 649.70,335.6 L649.70,416.4 Z" fill="#a9b7dc" stroke="#26468e" stroke-width="1.2"/>
<path d="M652.17,416.4 L652.17,333.2 Q653.62,331.5 655.08,333.2 L655.08,416.4 Z" fill="#a9b7dc" stroke="#26468e" stroke-width="1.2"/>
<path d="M657.55,416.4 L657.55,331.1 Q659.00,329.4 660.45,331.1 L660.45,416.4 Z" fill="#a9b7dc" stroke="#26468e" stroke-width="1.2"/>
<path d="M662.92,416.4 L662.92,328.5 Q664.38,326.8 665.83,328.5 L665.83,416.4 Z" fill="#a9b7dc" stroke="#26468e" stroke-width="1.2"/>
<path d="M668.30,416.4 L668.30,326.4 Q669.75,324.7 671.20,326.4 L671.20,416.4 Z" fill="#a9b7dc" stroke="#26468e" stroke-width="1.2"/>
<path d="M673.67,416.4 L673.67,324.5 Q675.12,322.8 676.58,324.5 L676.58,416.4 Z" fill="#a9b7dc" stroke="#26468e" stroke-width="1.2"/>
<path d="M679.05,416.4 L679.05,322.5 Q680.50,320.8 681.95,322.5 L681.95,416.4 Z" fill="#a9b7dc" stroke="#26468e" stroke-width="1.2"/>
<path d="M684.42,416.4 L684.42,320.5 Q685.88,318.8 687.33,320.5 L687.33,416.4 Z" fill="#a9b7dc" stroke="#26468e" stroke-width="1.2"/>
<path d="M689.80,416.4 L689.80,318.6 Q691.25,316.9 692.70,318.6 L692.70,416.4 Z" fill="#a9b7dc" stroke="#26468e" stroke-width="1.2"/>
<path d="M695.17,416.4 L695.17,316.7 Q696.62,315.0 698.08,316.7 L698.08,416.4 Z" fill="#a9b7dc" stroke="#26468e" stroke-width="1.2"/>
<path d="M700.55,416.4 L700.55,314.6 Q702.00,312.9 703.45,314.6 L703.45,416.4 Z" fill="#a9b7dc" stroke="#26468e" stroke-width="1.2"/>
<path d="M705.92,416.4 L705.92,313.1 Q707.38,311.4 708.83,313.1 L708.83,416.4 Z" fill="#a9b7dc" stroke="#26468e" stroke-width="1.2"/>
<path d="M711.30,416.4 L711.30,311.5 Q712.75,309.8 714.20,311.5 L714.20,416.4 Z" fill="#a9b7dc" stroke="#26468e" stroke-width="1.2"/>
<path d="M716.67,416.4 L716.67,309.9 Q718.12,308.2 719.58,309.9 L719.58,416.4 Z" fill="#a9b7dc" stroke="#26468e" stroke-width="1.2"/>
<path d="M722.05,416.4 L722.05,308.6 Q723.50,306.9 724.95,308.6 L724.95,416.4 Z" fill="#a9b7dc" stroke="#26468e" stroke-width="1.2"/>
<path d="M727.42,416.4 L727.42,307.2 Q728.88,305.5 730.33,307.2 L730.33,416.4 Z" fill="#a9b7dc" stroke="#26468e" stroke-width="1.2"/>
<path d="M732.80,416.4 L732.80,305.7 Q734.25,304.0 735.70,305.7 L735.70,416.4 Z" fill="#a9b7dc" stroke="#26468e" stroke-width="1.2"/>
<path d="M738.17,416.4 L738.17,304.4 Q739.62,302.7 741.08,304.4 L741.08,416.4 Z" fill="#a9b7dc" stroke="#26468e" stroke-width="1.2"/>
<path d="M743.55,416.4 L743.55,303.1 Q745.00,301.4 746.45,303.1 L746.45,416.4 Z" fill="#a9b7dc" stroke="#26468e" stroke-width="1.2"/>
<path d="M748.75,416.6 L748.75,530.8 L749.65,531.8 L752.05,526.8 L752.05,416.6 Z" fill="#a9b7dc" stroke="#26468e" stroke-width="1.2" stroke-linejoin="round"/>
<path d="M754.35,416.6 L754.35,526.9 L755.25,527.9 L757.65,522.9 L757.65,416.6 Z" fill="#a9b7dc" stroke="#26468e" stroke-width="1.2" stroke-linejoin="round"/>
<path d="M759.95,416.6 L759.95,522.2 L760.85,523.2 L763.25,518.2 L763.25,416.6 Z" fill="#a9b7dc" stroke="#26468e" stroke-width="1.2" stroke-linejoin="round"/>
<path d="M765.55,416.6 L765.55,517.4 L766.45,518.4 L768.85,513.4 L768.85,416.6 Z" fill="#a9b7dc" stroke="#26468e" stroke-width="1.2" stroke-linejoin="round"/>
<path d="M771.15,416.6 L771.15,512.7 L772.05,513.7 L774.45,508.7 L774.45,416.6 Z" fill="#a9b7dc" stroke="#26468e" stroke-width="1.2" stroke-linejoin="round"/>
<path d="M776.75,416.6 L776.75,508.0 L777.65,509.0 L780.05,504.0 L780.05,416.6 Z" fill="#a9b7dc" stroke="#26468e" stroke-width="1.2" stroke-linejoin="round"/>
<path d="M782.35,416.6 L782.35,504.1 L783.25,505.1 L785.65,500.1 L785.65,416.6 Z" fill="#a9b7dc" stroke="#26468e" stroke-width="1.2" stroke-linejoin="round"/>
<path d="M787.95,416.6 L787.95,500.9 L788.85,501.9 L791.25,496.9 L791.25,416.6 Z" fill="#a9b7dc" stroke="#26468e" stroke-width="1.2" stroke-linejoin="round"/>
<path d="M793.55,416.6 L793.55,497.8 L794.45,498.8 L796.85,493.8 L796.85,416.6 Z" fill="#a9b7dc" stroke="#26468e" stroke-width="1.2" stroke-linejoin="round"/>
<path d="M799.15,416.6 L799.15,495.1 L800.05,496.1 L802.45,491.1 L802.45,416.6 Z" fill="#a9b7dc" stroke="#26468e" stroke-width="1.2" stroke-linejoin="round"/>
<path d="M804.75,416.6 L804.75,492.3 L805.65,493.3 L808.05,488.3 L808.05,416.6 Z" fill="#a9b7dc" stroke="#26468e" stroke-width="1.2" stroke-linejoin="round"/>
<path d="M810.35,416.6 L810.35,489.6 L811.25,490.6 L813.65,485.6 L813.65,416.6 Z" fill="#a9b7dc" stroke="#26468e" stroke-width="1.2" stroke-linejoin="round"/>
<path d="M815.95,416.6 L815.95,486.8 L816.85,487.8 L819.25,482.8 L819.25,416.6 Z" fill="#a9b7dc" stroke="#26468e" stroke-width="1.2" stroke-linejoin="round"/>
<path d="M821.55,416.6 L821.55,484.4 L822.45,485.4 L824.85,480.4 L824.85,416.6 Z" fill="#a9b7dc" stroke="#26468e" stroke-width="1.2" stroke-linejoin="round"/>
<path d="M827.15,416.6 L827.15,482.0 L828.05,483.0 L830.45,478.0 L830.45,416.6 Z" fill="#a9b7dc" stroke="#26468e" stroke-width="1.2" stroke-linejoin="round"/>
<path d="M832.75,416.6 L832.75,480.0 L833.65,481.0 L836.05,476.0 L836.05,416.6 Z" fill="#a9b7dc" stroke="#26468e" stroke-width="1.2" stroke-linejoin="round"/>
<path d="M838.35,416.6 L838.35,478.1 L839.25,479.1 L841.65,474.1 L841.65,416.6 Z" fill="#a9b7dc" stroke="#26468e" stroke-width="1.2" stroke-linejoin="round"/>
<path d="M843.95,416.6 L843.95,476.1 L844.85,477.1 L847.25,472.1 L847.25,416.6 Z" fill="#a9b7dc" stroke="#26468e" stroke-width="1.2" stroke-linejoin="round"/>
<path d="M849.55,416.6 L849.55,474.2 L850.45,475.2 L852.85,470.2 L852.85,416.6 Z" fill="#a9b7dc" stroke="#26468e" stroke-width="1.2" stroke-linejoin="round"/>
<path d="M855.15,416.6 L855.15,472.6 L856.05,473.6 L858.45,468.6 L858.45,416.6 Z" fill="#a9b7dc" stroke="#26468e" stroke-width="1.2" stroke-linejoin="round"/>
<path d="M860.75,416.6 L860.75,471.0 L861.65,472.0 L864.05,467.0 L864.05,416.6 Z" fill="#a9b7dc" stroke="#26468e" stroke-width="1.2" stroke-linejoin="round"/>
<path d="M866.35,416.6 L866.35,469.8 L867.25,470.8 L869.65,465.8 L869.65,416.6 Z" fill="#a9b7dc" stroke="#26468e" stroke-width="1.2" stroke-linejoin="round"/>
<path d="M871.95,416.6 L871.95,468.5 L872.85,469.5 L875.25,464.5 L875.25,416.6 Z" fill="#a9b7dc" stroke="#26468e" stroke-width="1.2" stroke-linejoin="round"/>
<path d="M877.55,416.6 L877.55,467.3 L878.45,468.3 L880.85,463.3 L880.85,416.6 Z" fill="#a9b7dc" stroke="#26468e" stroke-width="1.2" stroke-linejoin="round"/>
<path d="M883.15,416.6 L883.15,466.0 L884.05,467.0 L886.45,462.0 L886.45,416.6 Z" fill="#a9b7dc" stroke="#26468e" stroke-width="1.2" stroke-linejoin="round"/>
<pattern id="odots1" x="613.85" y="300.3" width="2.6875" height="4" patternUnits="userSpaceOnUse"><rect x="0.35" y="0" width="0.95" height="1.6" fill="#ea5a28" opacity="0.72"/><rect x="0.35" y="2.2" width="0.95" height="0.9" fill="#f09070" opacity="0.22"/></pattern>
<pattern id="odots2" x="748.05" y="417.2" width="2.8" height="4" patternUnits="userSpaceOnUse"><rect x="0.35" y="0" width="0.95" height="1.6" fill="#ea5a28" opacity="0.72"/><rect x="0.35" y="2.2" width="0.95" height="0.9" fill="#f09070" opacity="0.22"/></pattern>
<rect x="613.8" y="300.3" width="134.4" height="116" fill="url(#odots1)"/>
<rect x="748" y="417.2" width="139.6" height="115.2" fill="url(#odots2)"/>
<line x1="614" y1="300.4" x2="748" y2="300.4" stroke="#ea5a28" stroke-width="0.8" stroke-dasharray="1.2 1.5" opacity="0.6"/>
<line x1="749" y1="532.2" x2="887.5" y2="532.2" stroke="#ea5a28" stroke-width="0.8" stroke-dasharray="1.2 1.5" opacity="0.6"/>
<line x1="608.3" y1="416.6" x2="889" y2="416.6" stroke="#333" stroke-width="1.2"/>
<line x1="748" y1="416.2" x2="889" y2="416.2" stroke="#2d4e90" stroke-width="1.2" stroke-dasharray="3.4 1.2"/>
<line x1="612.5" y1="416.6" x2="612.5" y2="421" stroke="#333" stroke-width="1.1"/>
<text x="612.5" y="432.6" font-family='"Liberation Sans", sans-serif' font-size="9.6" fill="#222" text-anchor="middle" font-weight="bold" >0</text>
<line x1="658.3" y1="416.6" x2="658.3" y2="421" stroke="#333" stroke-width="1.1"/>
<text x="658.3" y="432.6" font-family='"Liberation Sans", sans-serif' font-size="9.6" fill="#222" text-anchor="middle" font-weight="bold" >20</text>
<line x1="704.6" y1="416.6" x2="704.6" y2="421" stroke="#333" stroke-width="1.1"/>
<text x="704.6" y="432.6" font-family='"Liberation Sans", sans-serif' font-size="9.6" fill="#222" text-anchor="middle" font-weight="bold" >40</text>
<line x1="750.8" y1="416.6" x2="750.8" y2="421" stroke="#333" stroke-width="1.1"/>
<line x1="796.5" y1="416.6" x2="796.5" y2="421" stroke="#333" stroke-width="1.1"/>
<line x1="842.6" y1="416.6" x2="842.6" y2="421" stroke="#333" stroke-width="1.1"/>
<text x="755.7" y="410.9" font-family='"Liberation Sans", sans-serif' font-size="9.6" fill="#333" text-anchor="middle" >60</text>
<text x="796.9" y="413.6" font-family='"Liberation Sans", sans-serif' font-size="9.6" fill="#333" text-anchor="middle" >80</text>
<text x="843.3" y="413.6" font-family='"Liberation Sans", sans-serif' font-size="9.6" fill="#333" text-anchor="middle" >100</text>
<text x="879.4" y="413.6" font-family='"Liberation Sans", sans-serif' font-size="9.6" fill="#333" text-anchor="middle" >120</text>
<text x="690.1" y="446.6" font-family='"Liberation Sans", sans-serif' font-size="11.6" fill="#222" font-weight="bold" textLength="43.6" lengthAdjust="spacingAndGlyphs" >Time (s)</text>
<path d="M612,299.9 L608.3,299.9 L608.3,532.6 L612,532.6" fill="none" stroke="#1f74c4" stroke-width="1.8"/>
<line x1="603.9" y1="305.1" x2="608.3" y2="305.1" stroke="#1f74c4" stroke-width="1.3"/>
<text x="600.4" y="308.5" font-family='"Liberation Sans", sans-serif' font-size="9.4" fill="#1f74c4" text-anchor="end" >4</text>
<line x1="603.9" y1="360.8" x2="608.3" y2="360.8" stroke="#1f74c4" stroke-width="1.3"/>
<text x="600.4" y="364.2" font-family='"Liberation Sans", sans-serif' font-size="9.4" fill="#1f74c4" text-anchor="end" >2</text>
<line x1="603.9" y1="416.5" x2="608.3" y2="416.5" stroke="#1f74c4" stroke-width="1.3"/>
<text x="600.4" y="419.9" font-family='"Liberation Sans", sans-serif' font-size="9.4" fill="#1f74c4" text-anchor="end" >0</text>
<line x1="603.9" y1="472.2" x2="608.3" y2="472.2" stroke="#1f74c4" stroke-width="1.3"/>
<text x="600.4" y="475.6" font-family='"Liberation Sans", sans-serif' font-size="9.4" fill="#1f74c4" text-anchor="end" >−2</text>
<line x1="603.9" y1="527.9" x2="608.3" y2="527.9" stroke="#1f74c4" stroke-width="1.3"/>
<text x="600.4" y="531.3" font-family='"Liberation Sans", sans-serif' font-size="9.4" fill="#1f74c4" text-anchor="end" >−4</text>
<line x1="606" y1="332.9" x2="608.3" y2="332.9" stroke="#1f74c4" stroke-width="1.1"/>
<line x1="606" y1="388.6" x2="608.3" y2="388.6" stroke="#1f74c4" stroke-width="1.1"/>
<line x1="606" y1="444.4" x2="608.3" y2="444.4" stroke="#1f74c4" stroke-width="1.1"/>
<line x1="606" y1="500.1" x2="608.3" y2="500.1" stroke="#1f74c4" stroke-width="1.1"/>
<text x="590.6" y="416.0" font-family='"Liberation Sans", sans-serif' font-size="11.6" fill="#1f74c4" text-anchor="middle" font-weight="bold" textLength="70.0" lengthAdjust="spacingAndGlyphs" transform="rotate(-90 590.6 416.0)" >Current (µA)</text>
<path d="M892.9,299.9 L889,299.9 L889,532.8 L892.9,532.8" fill="none" stroke="#e8501c" stroke-width="1.8"/>
<line x1="889" y1="299.8" x2="893" y2="299.8" stroke="#e8501c" stroke-width="1.3"/>
<text x="896.8" y="303.1" font-family='"Liberation Sans", sans-serif' font-size="9.2" fill="#e8501c" font-weight="bold" >10</text>
<line x1="889" y1="358.1" x2="893" y2="358.1" stroke="#e8501c" stroke-width="1.3"/>
<text x="896.8" y="361.4" font-family='"Liberation Sans", sans-serif' font-size="9.2" fill="#e8501c" font-weight="bold" >5</text>
<line x1="889" y1="416.4" x2="893" y2="416.4" stroke="#e8501c" stroke-width="1.3"/>
<text x="896.8" y="419.7" font-family='"Liberation Sans", sans-serif' font-size="9.2" fill="#e8501c" font-weight="bold" >0</text>
<line x1="889" y1="474.7" x2="893" y2="474.7" stroke="#e8501c" stroke-width="1.3"/>
<text x="896.8" y="478.0" font-family='"Liberation Sans", sans-serif' font-size="9.2" fill="#e8501c" font-weight="bold" >−5</text>
<line x1="889" y1="533.0" x2="893" y2="533.0" stroke="#e8501c" stroke-width="1.3"/>
<text x="896.8" y="536.3" font-family='"Liberation Sans", sans-serif' font-size="9.2" fill="#e8501c" font-weight="bold" >−10</text>
<line x1="889" y1="328.9" x2="891.3" y2="328.9" stroke="#e8501c" stroke-width="1.1"/>
<line x1="889" y1="387.2" x2="891.3" y2="387.2" stroke="#e8501c" stroke-width="1.1"/>
<line x1="889" y1="445.5" x2="891.3" y2="445.5" stroke="#e8501c" stroke-width="1.1"/>
<line x1="889" y1="503.8" x2="891.3" y2="503.8" stroke="#e8501c" stroke-width="1.1"/>
<text x="918.3" y="410.8" font-family='"Liberation Sans", sans-serif' font-size="11.8" fill="#e8501c" text-anchor="middle" font-weight="bold" textLength="62.6" lengthAdjust="spacingAndGlyphs" transform="rotate(-90 918.3 410.8)" >Voltage (V)</text>
<text x="760.7" y="317.8" font-family='"Liberation Sans", sans-serif' font-size="8.8" fill="#333" font-weight="bold" textLength="57.0" lengthAdjust="spacingAndGlyphs" >"Potentiation"</text>
<path d="M809.8,350 L819.3,350 L821.3,311.2 L832.3,311.2 L833.6,350 L844.4,350" fill="none" stroke="#1c1c1c" stroke-width="1.1"/>
<text x="841.3" y="315.9" font-family='"Liberation Sans", sans-serif' font-size="8.6" fill="#222" font-weight="bold" textLength="19.3" lengthAdjust="spacingAndGlyphs" >+10V</text>
<text x="847.3" y="351.1" font-family='"Liberation Sans", sans-serif' font-size="8.6" fill="#222" font-weight="bold" textLength="9.8" lengthAdjust="spacingAndGlyphs" >0V</text>
<text x="627.2" y="484.9" font-family='"Liberation Sans", sans-serif' font-size="8.8" fill="#333" font-weight="bold" textLength="53.5" lengthAdjust="spacingAndGlyphs" >"Depression"</text>
<text x="684.9" y="484.9" font-family='"Liberation Sans", sans-serif' font-size="8.6" fill="#222" font-weight="bold" textLength="10.2" lengthAdjust="spacingAndGlyphs" >0V</text>
<path d="M697.5,478.3 L706.9,478.3 L709.3,511.4 L719.1,511.4 L720.6,478.3 L730.5,478.3" fill="none" stroke="#1c1c1c" stroke-width="1.1"/>
<text x="686.5" y="512.6" font-family='"Liberation Sans", sans-serif' font-size="8.6" fill="#222" font-weight="bold" textLength="16.2" lengthAdjust="spacingAndGlyphs" >-10V</text>
</g>
<g id="panelF">
<text x="923.6" y="280.8" font-family='"Liberation Sans", sans-serif' font-size="19" fill="#000" font-weight="bold" >f)</text>
<rect x="977.4" y="295.5" width="138.4" height="236" fill="#fdeee9"/>
<rect x="1115.7" y="295.5" width="135.5" height="236" fill="#c9e3f6"/>
<circle cx="1003.9" cy="448.9" r="3.7" fill="#ff7f0e"/>
<circle cx="1008.5" cy="450.8" r="3.7" fill="#ff7f0e"/>
<circle cx="1013.1" cy="444.5" r="3.7" fill="#ff7f0e"/>
<circle cx="1017.6" cy="438.2" r="3.7" fill="#ff7f0e"/>
<circle cx="1022.2" cy="431.9" r="3.7" fill="#ff7f0e"/>
<circle cx="1026.8" cy="425.6" r="3.7" fill="#ff7f0e"/>
<circle cx="1031.4" cy="419.3" r="3.7" fill="#ff7f0e"/>
<circle cx="1036.0" cy="413.0" r="3.7" fill="#ff7f0e"/>
<circle cx="1040.6" cy="407.0" r="3.7" fill="#ff7f0e"/>
<circle cx="1045.2" cy="400.9" r="3.7" fill="#ff7f0e"/>
<circle cx="1049.7" cy="394.4" r="3.7" fill="#ff7f0e"/>
<circle cx="1054.3" cy="388.6" r="3.7" fill="#ff7f0e"/>
<circle cx="1058.9" cy="382.3" r="3.7" fill="#ff7f0e"/>
<circle cx="1063.5" cy="376.8" r="3.7" fill="#ff7f0e"/>
<circle cx="1068.1" cy="371.6" r="3.7" fill="#ff7f0e"/>
<circle cx="1072.7" cy="366.6" r="3.7" fill="#ff7f0e"/>
<circle cx="1077.2" cy="361.5" r="3.7" fill="#ff7f0e"/>
<circle cx="1081.8" cy="356.6" r="3.7" fill="#ff7f0e"/>
<circle cx="1086.4" cy="351.9" r="3.7" fill="#ff7f0e"/>
<circle cx="1091.0" cy="347.4" r="3.7" fill="#ff7f0e"/>
<circle cx="1095.6" cy="343.0" r="3.7" fill="#ff7f0e"/>
<circle cx="1100.2" cy="338.8" r="3.7" fill="#ff7f0e"/>
<circle cx="1104.8" cy="334.7" r="3.7" fill="#ff7f0e"/>
<circle cx="1109.3" cy="330.7" r="3.7" fill="#ff7f0e"/>
<circle cx="1113.9" cy="326.9" r="3.7" fill="#ff7f0e"/>
<circle cx="1118.6" cy="330.4" r="3.7" fill="#1f77b4"/>
<circle cx="1123.3" cy="345" r="3.7" fill="#1f77b4"/>
<circle cx="1127.9" cy="360" r="3.7" fill="#1f77b4"/>
<circle cx="1132.3" cy="374.8" r="3.7" fill="#1f77b4"/>
<circle cx="1137" cy="388.3" r="3.7" fill="#1f77b4"/>
<circle cx="1141.4" cy="399.3" r="3.7" fill="#1f77b4"/>
<circle cx="1146.1" cy="405.1" r="3.7" fill="#1f77b4"/>
<circle cx="1150.7" cy="412.7" r="3.7" fill="#1f77b4"/>
<circle cx="1155.2" cy="419.3" r="3.7" fill="#1f77b4"/>
<circle cx="1159.8" cy="426" r="3.7" fill="#1f77b4"/>
<circle cx="1164.5" cy="431.4" r="3.7" fill="#1f77b4"/>
<circle cx="1169.2" cy="437.1" r="3.7" fill="#1f77b4"/>
<circle cx="1173.7" cy="446.8" r="3.7" fill="#1f77b4"/>
<circle cx="1178.4" cy="456.3" r="3.7" fill="#1f77b4"/>
<circle cx="1182.9" cy="463.7" r="3.7" fill="#1f77b4"/>
<circle cx="1187.5" cy="470.3" r="3.7" fill="#1f77b4"/>
<circle cx="1192.1" cy="475.5" r="3.7" fill="#1f77b4"/>
<circle cx="1196.6" cy="481" r="3.7" fill="#1f77b4"/>
<circle cx="1201.2" cy="485.4" r="3.7" fill="#1f77b4"/>
<circle cx="1205.7" cy="489.6" r="3.7" fill="#1f77b4"/>
<circle cx="1210.5" cy="493.5" r="3.7" fill="#1f77b4"/>
<circle cx="1214.9" cy="497.2" r="3.7" fill="#1f77b4"/>
<circle cx="1219.6" cy="501.1" r="3.7" fill="#1f77b4"/>
<circle cx="1224" cy="503.5" r="3.7" fill="#1f77b4"/>
<circle cx="1228.7" cy="506.5" r="3.7" fill="#1f77b4"/>
<path d="M986.7,383.1 L1002.9,383.1 L1005.2,315.6 L1024.1,315.6 L1026.5,383.1 L1045.7,383.1" fill="none" stroke="#e8501c" stroke-width="1.2"/>
<text x="1004.9" y="312.4" font-family='"Liberation Sans", sans-serif' font-size="8.6" fill="#222" font-weight="bold" textLength="24.7" lengthAdjust="spacingAndGlyphs" >w = 1s</text>
<text x="988.4" y="324.6" font-family='"Liberation Sans", sans-serif' font-size="8.4" fill="#222" font-weight="bold" textLength="14.5" lengthAdjust="spacingAndGlyphs" >10V</text>
<text x="1029.6" y="331.3" font-family='"Liberation Sans", sans-serif' font-size="8.5" fill="#222" font-weight="bold" textLength="60.6" lengthAdjust="spacingAndGlyphs" >'25 write spikes</text>
<text x="1029.6" y="342.3" font-family='"Liberation Sans", sans-serif' font-size="8.5" fill="#222" font-weight="bold" textLength="48.8" lengthAdjust="spacingAndGlyphs" >Potentiation'</text>
<text x="1029.3" y="378.4" font-family='"Liberation Sans", sans-serif' font-size="8.6" fill="#222" font-weight="bold" textLength="21.1" lengthAdjust="spacingAndGlyphs" >t = 1s</text>
<path d="M1139,312.9 L1154.8,312.9 L1156.7,375.5 L1172.9,375.5 L1174.8,312.9 L1190.5,312.9" fill="none" stroke="#1f74c4" stroke-width="1.2"/>
<text x="1176.8" y="322.7" font-family='"Liberation Sans", sans-serif' font-size="8.6" fill="#222" font-weight="bold" textLength="21.1" lengthAdjust="spacingAndGlyphs" >t = 1s</text>
<text x="1178.7" y="340.0" font-family='"Liberation Sans", sans-serif' font-size="8.5" fill="#222" font-weight="bold" textLength="63.2" lengthAdjust="spacingAndGlyphs" >'25 erase spikes</text>
<text x="1178.7" y="351.3" font-family='"Liberation Sans", sans-serif' font-size="8.5" fill="#222" font-weight="bold" textLength="46.9" lengthAdjust="spacingAndGlyphs" >Depression'</text>
<text x="1138.6" y="372.1" font-family='"Liberation Sans", sans-serif' font-size="8.4" fill="#222" font-weight="bold" textLength="16.5" lengthAdjust="spacingAndGlyphs" >-10V</text>
<text x="1153.8" y="385.5" font-family='"Liberation Sans", sans-serif' font-size="8.6" fill="#222" font-weight="bold" textLength="24.9" lengthAdjust="spacingAndGlyphs" >w = 1s</text>
<path d="M976.9,295 L976.9,531.8 L1251.8,531.8" fill="none" stroke="#444" stroke-width="1.5"/>
<line x1="972.2" y1="531.8" x2="977" y2="531.8" stroke="#444" stroke-width="1.3"/>
<text x="968.8" y="535.0" font-family='"Liberation Sans", sans-serif' font-size="8.9" fill="#222" text-anchor="end" font-weight="bold" >150</text>
<line x1="972.2" y1="492.4" x2="977" y2="492.4" stroke="#444" stroke-width="1.3"/>
<text x="968.8" y="495.6" font-family='"Liberation Sans", sans-serif' font-size="8.9" fill="#222" text-anchor="end" font-weight="bold" >200</text>
<line x1="972.2" y1="453.0" x2="977" y2="453.0" stroke="#444" stroke-width="1.3"/>
<text x="968.8" y="456.2" font-family='"Liberation Sans", sans-serif' font-size="8.9" fill="#222" text-anchor="end" font-weight="bold" >250</text>
<line x1="972.2" y1="413.6" x2="977" y2="413.6" stroke="#444" stroke-width="1.3"/>
<text x="968.8" y="416.8" font-family='"Liberation Sans", sans-serif' font-size="8.9" fill="#222" text-anchor="end" font-weight="bold" >300</text>
<line x1="972.2" y1="374.3" x2="977" y2="374.3" stroke="#444" stroke-width="1.3"/>
<text x="968.8" y="377.5" font-family='"Liberation Sans", sans-serif' font-size="8.9" fill="#222" text-anchor="end" font-weight="bold" >350</text>
<line x1="972.2" y1="334.9" x2="977" y2="334.9" stroke="#444" stroke-width="1.3"/>
<text x="968.8" y="338.1" font-family='"Liberation Sans", sans-serif' font-size="8.9" fill="#222" text-anchor="end" font-weight="bold" >400</text>
<line x1="972.2" y1="295.5" x2="977" y2="295.5" stroke="#444" stroke-width="1.3"/>
<text x="968.8" y="298.7" font-family='"Liberation Sans", sans-serif' font-size="8.9" fill="#222" text-anchor="end" font-weight="bold" >450</text>
<line x1="974.5" y1="512.1" x2="977" y2="512.1" stroke="#444" stroke-width="1.1"/>
<line x1="974.5" y1="472.7" x2="977" y2="472.7" stroke="#444" stroke-width="1.1"/>
<line x1="974.5" y1="433.3" x2="977" y2="433.3" stroke="#444" stroke-width="1.1"/>
<line x1="974.5" y1="394.0" x2="977" y2="394.0" stroke="#444" stroke-width="1.1"/>
<line x1="974.5" y1="354.6" x2="977" y2="354.6" stroke="#444" stroke-width="1.1"/>
<line x1="974.5" y1="315.2" x2="977" y2="315.2" stroke="#444" stroke-width="1.1"/>
<line x1="999.4" y1="531.8" x2="999.4" y2="536.2" stroke="#444" stroke-width="1.3"/>
<text x="999.4" y="547.0" font-family='"Liberation Sans", sans-serif' font-size="8.9" fill="#222" text-anchor="middle" font-weight="bold" >0</text>
<line x1="1045.2" y1="531.8" x2="1045.2" y2="536.2" stroke="#444" stroke-width="1.3"/>
<text x="1045.2" y="547.0" font-family='"Liberation Sans", sans-serif' font-size="8.9" fill="#222" text-anchor="middle" font-weight="bold" >10</text>
<line x1="1091.1" y1="531.8" x2="1091.1" y2="536.2" stroke="#444" stroke-width="1.3"/>
<text x="1091.1" y="547.0" font-family='"Liberation Sans", sans-serif' font-size="8.9" fill="#222" text-anchor="middle" font-weight="bold" >20</text>
<line x1="1137.0" y1="531.8" x2="1137.0" y2="536.2" stroke="#444" stroke-width="1.3"/>
<text x="1137.0" y="547.0" font-family='"Liberation Sans", sans-serif' font-size="8.9" fill="#222" text-anchor="middle" font-weight="bold" >30</text>
<line x1="1182.8" y1="531.8" x2="1182.8" y2="536.2" stroke="#444" stroke-width="1.3"/>
<text x="1182.8" y="547.0" font-family='"Liberation Sans", sans-serif' font-size="8.9" fill="#222" text-anchor="middle" font-weight="bold" >40</text>
<line x1="1228.7" y1="531.8" x2="1228.7" y2="536.2" stroke="#444" stroke-width="1.3"/>
<text x="1228.7" y="547.0" font-family='"Liberation Sans", sans-serif' font-size="8.9" fill="#222" text-anchor="middle" font-weight="bold" >50</text>
<line x1="977.1" y1="531.8" x2="977.1" y2="534.4" stroke="#444" stroke-width="1.1"/>
<line x1="1022.3" y1="531.8" x2="1022.3" y2="534.4" stroke="#444" stroke-width="1.1"/>
<line x1="1068.2" y1="531.8" x2="1068.2" y2="534.4" stroke="#444" stroke-width="1.1"/>
<line x1="1114.0" y1="531.8" x2="1114.0" y2="534.4" stroke="#444" stroke-width="1.1"/>
<line x1="1159.9" y1="531.8" x2="1159.9" y2="534.4" stroke="#444" stroke-width="1.1"/>
<line x1="1205.7" y1="531.8" x2="1205.7" y2="534.4" stroke="#444" stroke-width="1.1"/>
<line x1="1251.1" y1="531.8" x2="1251.1" y2="534.4" stroke="#444" stroke-width="1.1"/>
<text x="1088.2" y="562.0" font-family='"Liberation Sans", sans-serif' font-size="10.3" fill="#222" font-weight="bold" textLength="52.8" lengthAdjust="spacingAndGlyphs" ># of cycles</text>
<text x="946.5" y="417.5" font-family='"Liberation Sans", sans-serif' font-size="10.4" fill="#222" text-anchor="middle" font-weight="bold" textLength="107.6" lengthAdjust="spacingAndGlyphs" transform="rotate(-90 946.5 417.5)" >Conductance G (nS)</text>
</g>

</svg>
</body></html>
